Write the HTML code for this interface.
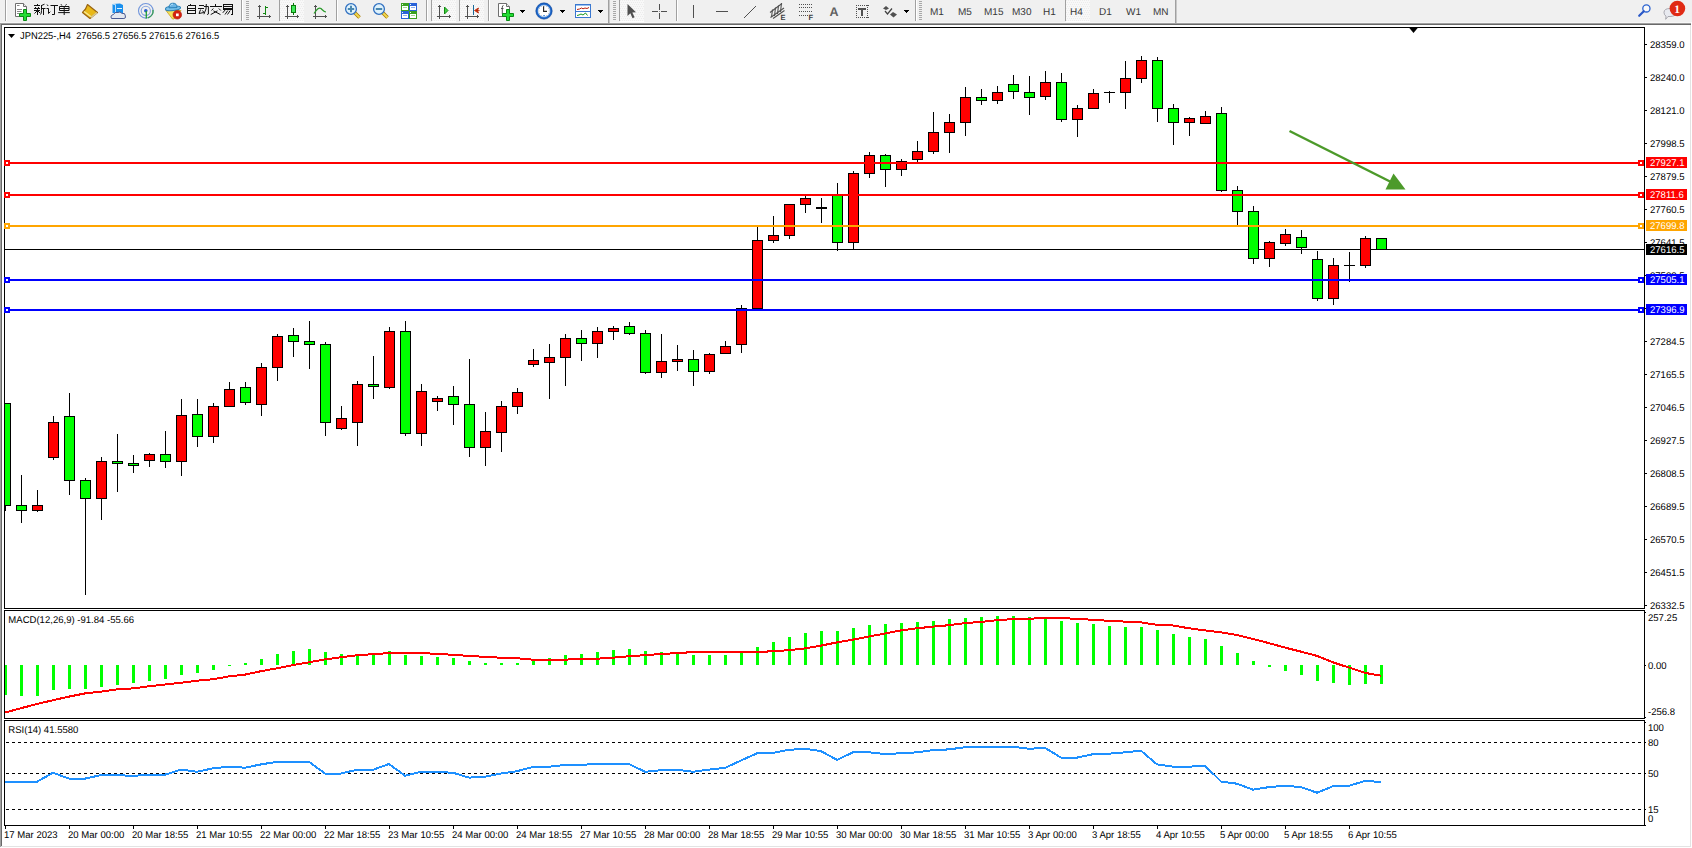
<!DOCTYPE html>
<html><head><meta charset="utf-8"><title>MT4 JPN225 H4</title>
<style>html,body{margin:0;padding:0;background:#fff;width:1692px;height:848px;overflow:hidden}
text{font-family:"Liberation Sans", sans-serif;text-rendering:geometricPrecision}</style></head>
<body>
<svg width="1692" height="848" viewBox="0 0 1692 848" shape-rendering="crispEdges" style="position:absolute;left:0;top:0">
<rect x="0" y="0" width="1692" height="848" fill="#ffffff"/>
<rect x="0" y="0" width="1692" height="22" fill="#f0f0f0"/>
<rect x="0" y="22" width="1691" height="1" fill="#f7f7f7"/>
<rect x="0" y="23" width="1691" height="1" fill="#a0a0a0"/>
<rect x="0" y="24" width="1691" height="1" fill="#696969"/>
<rect x="0" y="23" width="1" height="824" fill="#a0a0a0"/>
<rect x="1" y="24" width="1" height="822" fill="#696969"/>
<rect x="1690" y="25" width="1" height="821" fill="#e3e3e3"/>
<rect x="1" y="846" width="1690" height="1" fill="#e3e3e3"/>
<rect x="4" y="27" width="1641" height="1" fill="#000"/>
<rect x="4" y="608" width="1641" height="1" fill="#000"/>
<rect x="4" y="27" width="1" height="582" fill="#000"/>
<rect x="1644" y="27" width="1" height="582" fill="#000"/>
<rect x="4" y="610" width="1641" height="1" fill="#000"/>
<rect x="4" y="718" width="1641" height="1" fill="#000"/>
<rect x="4" y="610" width="1" height="109" fill="#000"/>
<rect x="1644" y="610" width="1" height="109" fill="#000"/>
<rect x="4" y="720" width="1641" height="1" fill="#000"/>
<rect x="4" y="825" width="1641" height="1" fill="#000"/>
<rect x="4" y="720" width="1" height="106" fill="#000"/>
<rect x="1644" y="720" width="1" height="106" fill="#000"/>
<defs><clipPath id="cm"><rect x="5" y="28" width="1639" height="580"/></clipPath><clipPath id="cmacd"><rect x="5" y="611" width="1639" height="107"/></clipPath><clipPath id="crsi"><rect x="5" y="721" width="1639" height="104"/></clipPath></defs>
<g clip-path="url(#cm)">
<rect x="5" y="249" width="1639" height="1" fill="#000"/>
<rect x="5" y="403" width="1" height="108" fill="#000"/>
<rect x="0" y="403" width="11" height="103" fill="#000"/>
<rect x="1" y="404" width="9" height="101" fill="#00ff00"/>
<rect x="21" y="475" width="1" height="48" fill="#000"/>
<rect x="16" y="505" width="11" height="6" fill="#000"/>
<rect x="17" y="506" width="9" height="4" fill="#00ff00"/>
<rect x="37" y="490" width="1" height="22" fill="#000"/>
<rect x="32" y="505" width="11" height="6" fill="#000"/>
<rect x="33" y="506" width="9" height="4" fill="#ff0000"/>
<rect x="53" y="416" width="1" height="44" fill="#000"/>
<rect x="48" y="422" width="11" height="36" fill="#000"/>
<rect x="49" y="423" width="9" height="34" fill="#ff0000"/>
<rect x="69" y="393" width="1" height="102" fill="#000"/>
<rect x="64" y="416" width="11" height="65" fill="#000"/>
<rect x="65" y="417" width="9" height="63" fill="#00ff00"/>
<rect x="85" y="478" width="1" height="117" fill="#000"/>
<rect x="80" y="480" width="11" height="19" fill="#000"/>
<rect x="81" y="481" width="9" height="17" fill="#00ff00"/>
<rect x="101" y="457" width="1" height="63" fill="#000"/>
<rect x="96" y="461" width="11" height="38" fill="#000"/>
<rect x="97" y="462" width="9" height="36" fill="#ff0000"/>
<rect x="117" y="434" width="1" height="58" fill="#000"/>
<rect x="112" y="461" width="11" height="3" fill="#000"/>
<rect x="113" y="462" width="9" height="1" fill="#00ff00"/>
<rect x="133" y="455" width="1" height="18" fill="#000"/>
<rect x="128" y="463" width="11" height="3" fill="#000"/>
<rect x="129" y="464" width="9" height="1" fill="#00ff00"/>
<rect x="149" y="453" width="1" height="14" fill="#000"/>
<rect x="144" y="454" width="11" height="7" fill="#000"/>
<rect x="145" y="455" width="9" height="5" fill="#ff0000"/>
<rect x="165" y="431" width="1" height="37" fill="#000"/>
<rect x="160" y="454" width="11" height="8" fill="#000"/>
<rect x="161" y="455" width="9" height="6" fill="#00ff00"/>
<rect x="181" y="399" width="1" height="77" fill="#000"/>
<rect x="176" y="415" width="11" height="47" fill="#000"/>
<rect x="177" y="416" width="9" height="45" fill="#ff0000"/>
<rect x="197" y="399" width="1" height="48" fill="#000"/>
<rect x="192" y="414" width="11" height="23" fill="#000"/>
<rect x="193" y="415" width="9" height="21" fill="#00ff00"/>
<rect x="213" y="403" width="1" height="40" fill="#000"/>
<rect x="208" y="406" width="11" height="31" fill="#000"/>
<rect x="209" y="407" width="9" height="29" fill="#ff0000"/>
<rect x="229" y="382" width="1" height="25" fill="#000"/>
<rect x="224" y="389" width="11" height="18" fill="#000"/>
<rect x="225" y="390" width="9" height="16" fill="#ff0000"/>
<rect x="245" y="382" width="1" height="23" fill="#000"/>
<rect x="240" y="387" width="11" height="16" fill="#000"/>
<rect x="241" y="388" width="9" height="14" fill="#00ff00"/>
<rect x="261" y="363" width="1" height="53" fill="#000"/>
<rect x="256" y="367" width="11" height="38" fill="#000"/>
<rect x="257" y="368" width="9" height="36" fill="#ff0000"/>
<rect x="277" y="334" width="1" height="47" fill="#000"/>
<rect x="272" y="336" width="11" height="32" fill="#000"/>
<rect x="273" y="337" width="9" height="30" fill="#ff0000"/>
<rect x="293" y="328" width="1" height="29" fill="#000"/>
<rect x="288" y="335" width="11" height="7" fill="#000"/>
<rect x="289" y="336" width="9" height="5" fill="#00ff00"/>
<rect x="309" y="321" width="1" height="48" fill="#000"/>
<rect x="304" y="341" width="11" height="4" fill="#000"/>
<rect x="305" y="342" width="9" height="2" fill="#00ff00"/>
<rect x="325" y="342" width="1" height="94" fill="#000"/>
<rect x="320" y="344" width="11" height="79" fill="#000"/>
<rect x="321" y="345" width="9" height="77" fill="#00ff00"/>
<rect x="341" y="406" width="1" height="24" fill="#000"/>
<rect x="336" y="418" width="11" height="11" fill="#000"/>
<rect x="337" y="419" width="9" height="9" fill="#ff0000"/>
<rect x="357" y="381" width="1" height="65" fill="#000"/>
<rect x="352" y="384" width="11" height="39" fill="#000"/>
<rect x="353" y="385" width="9" height="37" fill="#ff0000"/>
<rect x="373" y="356" width="1" height="43" fill="#000"/>
<rect x="368" y="384" width="11" height="3" fill="#000"/>
<rect x="369" y="385" width="9" height="1" fill="#00ff00"/>
<rect x="389" y="327" width="1" height="62" fill="#000"/>
<rect x="384" y="331" width="11" height="57" fill="#000"/>
<rect x="385" y="332" width="9" height="55" fill="#ff0000"/>
<rect x="405" y="321" width="1" height="115" fill="#000"/>
<rect x="400" y="331" width="11" height="103" fill="#000"/>
<rect x="401" y="332" width="9" height="101" fill="#00ff00"/>
<rect x="421" y="384" width="1" height="62" fill="#000"/>
<rect x="416" y="391" width="11" height="43" fill="#000"/>
<rect x="417" y="392" width="9" height="41" fill="#ff0000"/>
<rect x="437" y="396" width="1" height="15" fill="#000"/>
<rect x="432" y="398" width="11" height="4" fill="#000"/>
<rect x="433" y="399" width="9" height="2" fill="#ff0000"/>
<rect x="453" y="386" width="1" height="39" fill="#000"/>
<rect x="448" y="396" width="11" height="9" fill="#000"/>
<rect x="449" y="397" width="9" height="7" fill="#00ff00"/>
<rect x="469" y="359" width="1" height="98" fill="#000"/>
<rect x="464" y="404" width="11" height="44" fill="#000"/>
<rect x="465" y="405" width="9" height="42" fill="#00ff00"/>
<rect x="485" y="412" width="1" height="54" fill="#000"/>
<rect x="480" y="431" width="11" height="17" fill="#000"/>
<rect x="481" y="432" width="9" height="15" fill="#ff0000"/>
<rect x="501" y="401" width="1" height="51" fill="#000"/>
<rect x="496" y="406" width="11" height="27" fill="#000"/>
<rect x="497" y="407" width="9" height="25" fill="#ff0000"/>
<rect x="517" y="388" width="1" height="26" fill="#000"/>
<rect x="512" y="392" width="11" height="15" fill="#000"/>
<rect x="513" y="393" width="9" height="13" fill="#ff0000"/>
<rect x="533" y="349" width="1" height="18" fill="#000"/>
<rect x="528" y="360" width="11" height="5" fill="#000"/>
<rect x="529" y="361" width="9" height="3" fill="#ff0000"/>
<rect x="549" y="344" width="1" height="55" fill="#000"/>
<rect x="544" y="357" width="11" height="6" fill="#000"/>
<rect x="545" y="358" width="9" height="4" fill="#ff0000"/>
<rect x="565" y="334" width="1" height="52" fill="#000"/>
<rect x="560" y="338" width="11" height="20" fill="#000"/>
<rect x="561" y="339" width="9" height="18" fill="#ff0000"/>
<rect x="581" y="330" width="1" height="31" fill="#000"/>
<rect x="576" y="338" width="11" height="6" fill="#000"/>
<rect x="577" y="339" width="9" height="4" fill="#00ff00"/>
<rect x="597" y="327" width="1" height="31" fill="#000"/>
<rect x="592" y="331" width="11" height="13" fill="#000"/>
<rect x="593" y="332" width="9" height="11" fill="#ff0000"/>
<rect x="613" y="326" width="1" height="14" fill="#000"/>
<rect x="608" y="328" width="11" height="4" fill="#000"/>
<rect x="609" y="329" width="9" height="2" fill="#ff0000"/>
<rect x="629" y="322" width="1" height="13" fill="#000"/>
<rect x="624" y="326" width="11" height="8" fill="#000"/>
<rect x="625" y="327" width="9" height="6" fill="#00ff00"/>
<rect x="645" y="330" width="1" height="44" fill="#000"/>
<rect x="640" y="333" width="11" height="40" fill="#000"/>
<rect x="641" y="334" width="9" height="38" fill="#00ff00"/>
<rect x="661" y="334" width="1" height="44" fill="#000"/>
<rect x="656" y="361" width="11" height="12" fill="#000"/>
<rect x="657" y="362" width="9" height="10" fill="#ff0000"/>
<rect x="677" y="345" width="1" height="26" fill="#000"/>
<rect x="672" y="359" width="11" height="3" fill="#000"/>
<rect x="673" y="360" width="9" height="1" fill="#ff0000"/>
<rect x="693" y="350" width="1" height="36" fill="#000"/>
<rect x="688" y="359" width="11" height="13" fill="#000"/>
<rect x="689" y="360" width="9" height="11" fill="#00ff00"/>
<rect x="709" y="353" width="1" height="21" fill="#000"/>
<rect x="704" y="354" width="11" height="18" fill="#000"/>
<rect x="705" y="355" width="9" height="16" fill="#ff0000"/>
<rect x="725" y="341" width="1" height="13" fill="#000"/>
<rect x="720" y="346" width="11" height="8" fill="#000"/>
<rect x="721" y="347" width="9" height="6" fill="#ff0000"/>
<rect x="741" y="305" width="1" height="48" fill="#000"/>
<rect x="736" y="308" width="11" height="37" fill="#000"/>
<rect x="737" y="309" width="9" height="35" fill="#ff0000"/>
<rect x="757" y="227" width="1" height="82" fill="#000"/>
<rect x="752" y="240" width="11" height="69" fill="#000"/>
<rect x="753" y="241" width="9" height="67" fill="#ff0000"/>
<rect x="773" y="216" width="1" height="27" fill="#000"/>
<rect x="768" y="235" width="11" height="6" fill="#000"/>
<rect x="769" y="236" width="9" height="4" fill="#ff0000"/>
<rect x="789" y="204" width="1" height="35" fill="#000"/>
<rect x="784" y="204" width="11" height="32" fill="#000"/>
<rect x="785" y="205" width="9" height="30" fill="#ff0000"/>
<rect x="805" y="196" width="1" height="17" fill="#000"/>
<rect x="800" y="198" width="11" height="7" fill="#000"/>
<rect x="801" y="199" width="9" height="5" fill="#ff0000"/>
<rect x="821" y="198" width="1" height="25" fill="#000"/>
<rect x="816" y="207" width="11" height="2" fill="#000"/>
<rect x="837" y="183" width="1" height="68" fill="#000"/>
<rect x="832" y="195" width="11" height="48" fill="#000"/>
<rect x="833" y="196" width="9" height="46" fill="#00ff00"/>
<rect x="853" y="171" width="1" height="79" fill="#000"/>
<rect x="848" y="173" width="11" height="70" fill="#000"/>
<rect x="849" y="174" width="9" height="68" fill="#ff0000"/>
<rect x="869" y="152" width="1" height="26" fill="#000"/>
<rect x="864" y="155" width="11" height="19" fill="#000"/>
<rect x="865" y="156" width="9" height="17" fill="#ff0000"/>
<rect x="885" y="154" width="1" height="33" fill="#000"/>
<rect x="880" y="155" width="11" height="15" fill="#000"/>
<rect x="881" y="156" width="9" height="13" fill="#00ff00"/>
<rect x="901" y="159" width="1" height="17" fill="#000"/>
<rect x="896" y="161" width="11" height="9" fill="#000"/>
<rect x="897" y="162" width="9" height="7" fill="#ff0000"/>
<rect x="917" y="141" width="1" height="21" fill="#000"/>
<rect x="912" y="151" width="11" height="9" fill="#000"/>
<rect x="913" y="152" width="9" height="7" fill="#ff0000"/>
<rect x="933" y="112" width="1" height="42" fill="#000"/>
<rect x="928" y="132" width="11" height="20" fill="#000"/>
<rect x="929" y="133" width="9" height="18" fill="#ff0000"/>
<rect x="949" y="114" width="1" height="39" fill="#000"/>
<rect x="944" y="122" width="11" height="11" fill="#000"/>
<rect x="945" y="123" width="9" height="9" fill="#ff0000"/>
<rect x="965" y="87" width="1" height="49" fill="#000"/>
<rect x="960" y="97" width="11" height="26" fill="#000"/>
<rect x="961" y="98" width="9" height="24" fill="#ff0000"/>
<rect x="981" y="89" width="1" height="16" fill="#000"/>
<rect x="976" y="97" width="11" height="4" fill="#000"/>
<rect x="977" y="98" width="9" height="2" fill="#00ff00"/>
<rect x="997" y="86" width="1" height="18" fill="#000"/>
<rect x="992" y="92" width="11" height="9" fill="#000"/>
<rect x="993" y="93" width="9" height="7" fill="#ff0000"/>
<rect x="1013" y="75" width="1" height="24" fill="#000"/>
<rect x="1008" y="84" width="11" height="8" fill="#000"/>
<rect x="1009" y="85" width="9" height="6" fill="#00ff00"/>
<rect x="1029" y="76" width="1" height="39" fill="#000"/>
<rect x="1024" y="92" width="11" height="6" fill="#000"/>
<rect x="1025" y="93" width="9" height="4" fill="#00ff00"/>
<rect x="1045" y="71" width="1" height="29" fill="#000"/>
<rect x="1040" y="82" width="11" height="15" fill="#000"/>
<rect x="1041" y="83" width="9" height="13" fill="#ff0000"/>
<rect x="1061" y="73" width="1" height="49" fill="#000"/>
<rect x="1056" y="82" width="11" height="38" fill="#000"/>
<rect x="1057" y="83" width="9" height="36" fill="#00ff00"/>
<rect x="1077" y="105" width="1" height="32" fill="#000"/>
<rect x="1072" y="108" width="11" height="12" fill="#000"/>
<rect x="1073" y="109" width="9" height="10" fill="#ff0000"/>
<rect x="1093" y="89" width="1" height="20" fill="#000"/>
<rect x="1088" y="93" width="11" height="16" fill="#000"/>
<rect x="1089" y="94" width="9" height="14" fill="#ff0000"/>
<rect x="1109" y="91" width="1" height="12" fill="#000"/>
<rect x="1104" y="92" width="11" height="1" fill="#000"/>
<rect x="1125" y="61" width="1" height="48" fill="#000"/>
<rect x="1120" y="78" width="11" height="15" fill="#000"/>
<rect x="1121" y="79" width="9" height="13" fill="#ff0000"/>
<rect x="1141" y="56" width="1" height="27" fill="#000"/>
<rect x="1136" y="60" width="11" height="19" fill="#000"/>
<rect x="1137" y="61" width="9" height="17" fill="#ff0000"/>
<rect x="1157" y="57" width="1" height="65" fill="#000"/>
<rect x="1152" y="60" width="11" height="49" fill="#000"/>
<rect x="1153" y="61" width="9" height="47" fill="#00ff00"/>
<rect x="1173" y="104" width="1" height="41" fill="#000"/>
<rect x="1168" y="108" width="11" height="15" fill="#000"/>
<rect x="1169" y="109" width="9" height="13" fill="#00ff00"/>
<rect x="1189" y="117" width="1" height="19" fill="#000"/>
<rect x="1184" y="118" width="11" height="5" fill="#000"/>
<rect x="1185" y="119" width="9" height="3" fill="#ff0000"/>
<rect x="1205" y="111" width="1" height="13" fill="#000"/>
<rect x="1200" y="116" width="11" height="8" fill="#000"/>
<rect x="1201" y="117" width="9" height="6" fill="#ff0000"/>
<rect x="1221" y="107" width="1" height="85" fill="#000"/>
<rect x="1216" y="113" width="11" height="78" fill="#000"/>
<rect x="1217" y="114" width="9" height="76" fill="#00ff00"/>
<rect x="1237" y="186" width="1" height="39" fill="#000"/>
<rect x="1232" y="190" width="11" height="22" fill="#000"/>
<rect x="1233" y="191" width="9" height="20" fill="#00ff00"/>
<rect x="1253" y="206" width="1" height="58" fill="#000"/>
<rect x="1248" y="211" width="11" height="48" fill="#000"/>
<rect x="1249" y="212" width="9" height="46" fill="#00ff00"/>
<rect x="1269" y="241" width="1" height="26" fill="#000"/>
<rect x="1264" y="242" width="11" height="17" fill="#000"/>
<rect x="1265" y="243" width="9" height="15" fill="#ff0000"/>
<rect x="1285" y="229" width="1" height="17" fill="#000"/>
<rect x="1280" y="234" width="11" height="10" fill="#000"/>
<rect x="1281" y="235" width="9" height="8" fill="#ff0000"/>
<rect x="1301" y="230" width="1" height="24" fill="#000"/>
<rect x="1296" y="237" width="11" height="11" fill="#000"/>
<rect x="1297" y="238" width="9" height="9" fill="#00ff00"/>
<rect x="1317" y="251" width="1" height="50" fill="#000"/>
<rect x="1312" y="259" width="11" height="40" fill="#000"/>
<rect x="1313" y="260" width="9" height="38" fill="#00ff00"/>
<rect x="1333" y="258" width="1" height="47" fill="#000"/>
<rect x="1328" y="265" width="11" height="34" fill="#000"/>
<rect x="1329" y="266" width="9" height="32" fill="#ff0000"/>
<rect x="1349" y="252" width="1" height="30" fill="#000"/>
<rect x="1344" y="265" width="11" height="1" fill="#000"/>
<rect x="1365" y="236" width="1" height="32" fill="#000"/>
<rect x="1360" y="238" width="11" height="28" fill="#000"/>
<rect x="1361" y="239" width="9" height="26" fill="#ff0000"/>
<rect x="1381" y="238" width="1" height="12" fill="#000"/>
<rect x="1376" y="238" width="11" height="12" fill="#000"/>
<rect x="1377" y="239" width="9" height="10" fill="#00ff00"/>
</g>
<rect x="5" y="162" width="1639" height="2" fill="#ff0000"/>
<rect x="4" y="160" width="6" height="6" fill="#ff0000"/>
<rect x="6" y="162" width="2" height="2" fill="#ffffff"/>
<rect x="1638" y="160" width="6" height="6" fill="#ff0000"/>
<rect x="1640" y="162" width="2" height="2" fill="#ffffff"/>
<rect x="5" y="194" width="1639" height="2" fill="#ff0000"/>
<rect x="4" y="192" width="6" height="6" fill="#ff0000"/>
<rect x="6" y="194" width="2" height="2" fill="#ffffff"/>
<rect x="1638" y="192" width="6" height="6" fill="#ff0000"/>
<rect x="1640" y="194" width="2" height="2" fill="#ffffff"/>
<rect x="5" y="225" width="1639" height="2" fill="#ffa500"/>
<rect x="4" y="223" width="6" height="6" fill="#ffa500"/>
<rect x="6" y="225" width="2" height="2" fill="#ffffff"/>
<rect x="1638" y="223" width="6" height="6" fill="#ffa500"/>
<rect x="1640" y="225" width="2" height="2" fill="#ffffff"/>
<rect x="5" y="279" width="1639" height="2" fill="#0000ff"/>
<rect x="4" y="277" width="6" height="6" fill="#0000ff"/>
<rect x="6" y="279" width="2" height="2" fill="#ffffff"/>
<rect x="1638" y="277" width="6" height="6" fill="#0000ff"/>
<rect x="1640" y="279" width="2" height="2" fill="#ffffff"/>
<rect x="5" y="309" width="1639" height="2" fill="#0000ff"/>
<rect x="4" y="307" width="6" height="6" fill="#0000ff"/>
<rect x="6" y="309" width="2" height="2" fill="#ffffff"/>
<rect x="1638" y="307" width="6" height="6" fill="#0000ff"/>
<rect x="1640" y="309" width="2" height="2" fill="#ffffff"/>
<g shape-rendering="geometricPrecision">
<line x1="1289.5" y1="131" x2="1391" y2="182" stroke="#4c9a2a" stroke-width="2.5"/>
<polygon points="1393.5,173.5 1385.5,189.5 1405.5,189.5" fill="#4c9a2a"/>
</g>
<polygon points="1408.5,27 1418.5,27 1413.5,33" fill="#000" shape-rendering="geometricPrecision"/>
<g style='font-family:"Liberation Sans", sans-serif;font-size:9.5px' fill="#000" shape-rendering="geometricPrecision">
<rect x="1645" y="44" width="2" height="1" fill="#000"/>
<text transform="translate(1650,48) scale(0.975,1)" x="0" y="0" fill="#000" style='font-family:"Liberation Sans", sans-serif;font-size:9.8px' >28359.0</text>
<rect x="1645" y="77" width="2" height="1" fill="#000"/>
<text transform="translate(1650,81) scale(0.975,1)" x="0" y="0" fill="#000" style='font-family:"Liberation Sans", sans-serif;font-size:9.8px' >28240.0</text>
<rect x="1645" y="110" width="2" height="1" fill="#000"/>
<text transform="translate(1650,114) scale(0.975,1)" x="0" y="0" fill="#000" style='font-family:"Liberation Sans", sans-serif;font-size:9.8px' >28121.0</text>
<rect x="1645" y="143" width="2" height="1" fill="#000"/>
<text transform="translate(1650,147) scale(0.975,1)" x="0" y="0" fill="#000" style='font-family:"Liberation Sans", sans-serif;font-size:9.8px' >27998.5</text>
<rect x="1645" y="176" width="2" height="1" fill="#000"/>
<text transform="translate(1650,180) scale(0.975,1)" x="0" y="0" fill="#000" style='font-family:"Liberation Sans", sans-serif;font-size:9.8px' >27879.5</text>
<rect x="1645" y="209" width="2" height="1" fill="#000"/>
<text transform="translate(1650,213) scale(0.975,1)" x="0" y="0" fill="#000" style='font-family:"Liberation Sans", sans-serif;font-size:9.8px' >27760.5</text>
<rect x="1645" y="242" width="2" height="1" fill="#000"/>
<text transform="translate(1650,246) scale(0.975,1)" x="0" y="0" fill="#000" style='font-family:"Liberation Sans", sans-serif;font-size:9.8px' >27641.5</text>
<rect x="1645" y="275" width="2" height="1" fill="#000"/>
<text transform="translate(1650,279) scale(0.975,1)" x="0" y="0" fill="#000" style='font-family:"Liberation Sans", sans-serif;font-size:9.8px' >27522.5</text>
<rect x="1645" y="308" width="2" height="1" fill="#000"/>
<text transform="translate(1650,312) scale(0.975,1)" x="0" y="0" fill="#000" style='font-family:"Liberation Sans", sans-serif;font-size:9.8px' >27403.5</text>
<rect x="1645" y="341" width="2" height="1" fill="#000"/>
<text transform="translate(1650,345) scale(0.975,1)" x="0" y="0" fill="#000" style='font-family:"Liberation Sans", sans-serif;font-size:9.8px' >27284.5</text>
<rect x="1645" y="374" width="2" height="1" fill="#000"/>
<text transform="translate(1650,378) scale(0.975,1)" x="0" y="0" fill="#000" style='font-family:"Liberation Sans", sans-serif;font-size:9.8px' >27165.5</text>
<rect x="1645" y="407" width="2" height="1" fill="#000"/>
<text transform="translate(1650,411) scale(0.975,1)" x="0" y="0" fill="#000" style='font-family:"Liberation Sans", sans-serif;font-size:9.8px' >27046.5</text>
<rect x="1645" y="440" width="2" height="1" fill="#000"/>
<text transform="translate(1650,444) scale(0.975,1)" x="0" y="0" fill="#000" style='font-family:"Liberation Sans", sans-serif;font-size:9.8px' >26927.5</text>
<rect x="1645" y="473" width="2" height="1" fill="#000"/>
<text transform="translate(1650,477) scale(0.975,1)" x="0" y="0" fill="#000" style='font-family:"Liberation Sans", sans-serif;font-size:9.8px' >26808.5</text>
<rect x="1645" y="506" width="2" height="1" fill="#000"/>
<text transform="translate(1650,510) scale(0.975,1)" x="0" y="0" fill="#000" style='font-family:"Liberation Sans", sans-serif;font-size:9.8px' >26689.5</text>
<rect x="1645" y="539" width="2" height="1" fill="#000"/>
<text transform="translate(1650,543) scale(0.975,1)" x="0" y="0" fill="#000" style='font-family:"Liberation Sans", sans-serif;font-size:9.8px' >26570.5</text>
<rect x="1645" y="572" width="2" height="1" fill="#000"/>
<text transform="translate(1650,576) scale(0.975,1)" x="0" y="0" fill="#000" style='font-family:"Liberation Sans", sans-serif;font-size:9.8px' >26451.5</text>
<rect x="1645" y="605" width="2" height="1" fill="#000"/>
<text transform="translate(1650,609) scale(0.975,1)" x="0" y="0" fill="#000" style='font-family:"Liberation Sans", sans-serif;font-size:9.8px' >26332.5</text>
</g>
<rect x="1646" y="157" width="41" height="11" fill="#ff0000"/>
<text transform="translate(1650,166) scale(0.975,1)" x="0" y="0" fill="#fff" style='font-family:"Liberation Sans", sans-serif;font-size:9.8px' >27927.1</text>
<rect x="1646" y="189" width="41" height="11" fill="#ff0000"/>
<text transform="translate(1650,198) scale(0.975,1)" x="0" y="0" fill="#fff" style='font-family:"Liberation Sans", sans-serif;font-size:9.8px' >27811.6</text>
<rect x="1646" y="220" width="41" height="11" fill="#ffa500"/>
<text transform="translate(1650,229) scale(0.975,1)" x="0" y="0" fill="#fff" style='font-family:"Liberation Sans", sans-serif;font-size:9.8px' >27699.8</text>
<rect x="1646" y="274" width="41" height="11" fill="#0000ff"/>
<text transform="translate(1650,283) scale(0.975,1)" x="0" y="0" fill="#fff" style='font-family:"Liberation Sans", sans-serif;font-size:9.8px' >27505.1</text>
<rect x="1646" y="304" width="41" height="11" fill="#0000ff"/>
<text transform="translate(1650,313) scale(0.975,1)" x="0" y="0" fill="#fff" style='font-family:"Liberation Sans", sans-serif;font-size:9.8px' >27396.9</text>
<rect x="1646" y="244" width="41" height="11" fill="#000000"/>
<text transform="translate(1650,253) scale(0.975,1)" x="0" y="0" fill="#fff" style='font-family:"Liberation Sans", sans-serif;font-size:9.8px' >27616.5</text>
<polygon points="8,34 15,34 11.5,38" fill="#000" shape-rendering="geometricPrecision"/>
<text transform="translate(20,39) scale(0.955,1)" x="0" y="0" fill="#000" style='font-family:"Liberation Sans", sans-serif;font-size:9.8px' xml:space="preserve">JPN225-,H4  27656.5 27656.5 27615.6 27616.5</text>
<g clip-path="url(#cmacd)">
<rect x="4" y="665" width="3" height="30" fill="#00ff00"/>
<rect x="20" y="665" width="3" height="31" fill="#00ff00"/>
<rect x="36" y="665" width="3" height="31" fill="#00ff00"/>
<rect x="52" y="665" width="3" height="25" fill="#00ff00"/>
<rect x="68" y="665" width="3" height="24" fill="#00ff00"/>
<rect x="84" y="665" width="3" height="24" fill="#00ff00"/>
<rect x="100" y="665" width="3" height="22" fill="#00ff00"/>
<rect x="116" y="665" width="3" height="20" fill="#00ff00"/>
<rect x="132" y="665" width="3" height="18" fill="#00ff00"/>
<rect x="148" y="665" width="3" height="16" fill="#00ff00"/>
<rect x="164" y="665" width="3" height="14" fill="#00ff00"/>
<rect x="180" y="665" width="3" height="10" fill="#00ff00"/>
<rect x="196" y="665" width="3" height="8" fill="#00ff00"/>
<rect x="212" y="665" width="3" height="5" fill="#00ff00"/>
<rect x="228" y="665" width="3" height="1" fill="#00ff00"/>
<rect x="244" y="663" width="3" height="2" fill="#00ff00"/>
<rect x="260" y="659" width="3" height="6" fill="#00ff00"/>
<rect x="276" y="654" width="3" height="11" fill="#00ff00"/>
<rect x="292" y="651" width="3" height="14" fill="#00ff00"/>
<rect x="308" y="649" width="3" height="16" fill="#00ff00"/>
<rect x="324" y="652" width="3" height="13" fill="#00ff00"/>
<rect x="340" y="654" width="3" height="11" fill="#00ff00"/>
<rect x="356" y="655" width="3" height="10" fill="#00ff00"/>
<rect x="372" y="655" width="3" height="10" fill="#00ff00"/>
<rect x="388" y="651" width="3" height="14" fill="#00ff00"/>
<rect x="404" y="655" width="3" height="10" fill="#00ff00"/>
<rect x="420" y="656" width="3" height="9" fill="#00ff00"/>
<rect x="436" y="657" width="3" height="8" fill="#00ff00"/>
<rect x="452" y="658" width="3" height="7" fill="#00ff00"/>
<rect x="468" y="661" width="3" height="4" fill="#00ff00"/>
<rect x="484" y="663" width="3" height="2" fill="#00ff00"/>
<rect x="500" y="663" width="3" height="2" fill="#00ff00"/>
<rect x="516" y="663" width="3" height="2" fill="#00ff00"/>
<rect x="532" y="659" width="3" height="6" fill="#00ff00"/>
<rect x="548" y="658" width="3" height="7" fill="#00ff00"/>
<rect x="564" y="655" width="3" height="10" fill="#00ff00"/>
<rect x="580" y="654" width="3" height="11" fill="#00ff00"/>
<rect x="596" y="652" width="3" height="13" fill="#00ff00"/>
<rect x="612" y="650" width="3" height="15" fill="#00ff00"/>
<rect x="628" y="649" width="3" height="16" fill="#00ff00"/>
<rect x="644" y="651" width="3" height="14" fill="#00ff00"/>
<rect x="660" y="652" width="3" height="13" fill="#00ff00"/>
<rect x="676" y="653" width="3" height="12" fill="#00ff00"/>
<rect x="692" y="655" width="3" height="10" fill="#00ff00"/>
<rect x="708" y="655" width="3" height="10" fill="#00ff00"/>
<rect x="724" y="655" width="3" height="10" fill="#00ff00"/>
<rect x="740" y="653" width="3" height="12" fill="#00ff00"/>
<rect x="756" y="647" width="3" height="18" fill="#00ff00"/>
<rect x="772" y="642" width="3" height="23" fill="#00ff00"/>
<rect x="788" y="637" width="3" height="28" fill="#00ff00"/>
<rect x="804" y="633" width="3" height="32" fill="#00ff00"/>
<rect x="820" y="631" width="3" height="34" fill="#00ff00"/>
<rect x="836" y="631" width="3" height="34" fill="#00ff00"/>
<rect x="852" y="628" width="3" height="37" fill="#00ff00"/>
<rect x="868" y="625" width="3" height="40" fill="#00ff00"/>
<rect x="884" y="624" width="3" height="41" fill="#00ff00"/>
<rect x="900" y="623" width="3" height="42" fill="#00ff00"/>
<rect x="916" y="622" width="3" height="43" fill="#00ff00"/>
<rect x="932" y="621" width="3" height="44" fill="#00ff00"/>
<rect x="948" y="619" width="3" height="46" fill="#00ff00"/>
<rect x="964" y="618" width="3" height="47" fill="#00ff00"/>
<rect x="980" y="617" width="3" height="48" fill="#00ff00"/>
<rect x="996" y="616" width="3" height="49" fill="#00ff00"/>
<rect x="1012" y="616" width="3" height="49" fill="#00ff00"/>
<rect x="1028" y="617" width="3" height="48" fill="#00ff00"/>
<rect x="1044" y="618" width="3" height="47" fill="#00ff00"/>
<rect x="1060" y="621" width="3" height="44" fill="#00ff00"/>
<rect x="1076" y="623" width="3" height="42" fill="#00ff00"/>
<rect x="1092" y="624" width="3" height="41" fill="#00ff00"/>
<rect x="1108" y="626" width="3" height="39" fill="#00ff00"/>
<rect x="1124" y="627" width="3" height="38" fill="#00ff00"/>
<rect x="1140" y="627" width="3" height="38" fill="#00ff00"/>
<rect x="1156" y="630" width="3" height="35" fill="#00ff00"/>
<rect x="1172" y="634" width="3" height="31" fill="#00ff00"/>
<rect x="1188" y="637" width="3" height="28" fill="#00ff00"/>
<rect x="1204" y="639" width="3" height="26" fill="#00ff00"/>
<rect x="1220" y="646" width="3" height="19" fill="#00ff00"/>
<rect x="1236" y="653" width="3" height="12" fill="#00ff00"/>
<rect x="1252" y="661" width="3" height="4" fill="#00ff00"/>
<rect x="1268" y="665" width="3" height="2" fill="#00ff00"/>
<rect x="1284" y="665" width="3" height="6" fill="#00ff00"/>
<rect x="1300" y="665" width="3" height="10" fill="#00ff00"/>
<rect x="1316" y="665" width="3" height="16" fill="#00ff00"/>
<rect x="1332" y="665" width="3" height="18" fill="#00ff00"/>
<rect x="1348" y="665" width="3" height="20" fill="#00ff00"/>
<rect x="1364" y="665" width="3" height="19" fill="#00ff00"/>
<rect x="1380" y="665" width="3" height="19" fill="#00ff00"/>
<polyline points="5,712.5 21,708.2 37,704.0 53,700.2 69,696.6 85,693.4 101,691.7 117,689.4 133,688.4 149,686.3 165,684.5 181,682.8 197,680.7 213,679.2 229,676.4 245,674.6 261,671.2 277,668.3 293,665.1 309,662.3 325,659.4 341,657.3 357,655.2 373,654.2 389,653.1 405,653.1 421,653.1 437,653.8 453,654.8 469,655.9 485,656.9 501,657.7 517,658.2 533,659.7 549,659.7 565,659.7 581,658.7 597,658.7 613,657.7 629,656.2 645,655.2 661,654.0 677,653.1 693,652.1 709,652.1 725,652.1 741,652.1 757,652.1 773,651.2 789,650.2 805,648.4 821,645.6 837,642.4 853,639.6 869,636.5 885,633.5 901,630.4 917,628.3 933,626.6 949,625.2 965,623.1 981,621.9 997,620.2 1013,619.1 1029,618.7 1045,618.1 1061,618.1 1077,618.8 1093,619.8 1109,620.8 1125,621.6 1141,622.4 1157,624.8 1173,625.5 1189,628.3 1205,630.4 1221,632.3 1237,635.1 1253,638.9 1269,643.2 1285,647.6 1301,651.6 1317,655.9 1333,662.3 1349,667.6 1365,672.9 1381,675.7" fill="none" stroke="#ff0000" stroke-width="2"/>
</g>
<text transform="translate(8.3,623) scale(0.975,1)" x="0" y="0" fill="#000" style='font-family:"Liberation Sans", sans-serif;font-size:9.8px' >MACD(12,26,9) -91.84 -55.66</text>
<rect x="1645" y="612" width="1" height="1" fill="#000"/>
<text transform="translate(1648,621) scale(0.975,1)" x="0" y="0" fill="#000" style='font-family:"Liberation Sans", sans-serif;font-size:9.8px' >257.25</text>
<rect x="1645" y="665" width="1" height="1" fill="#000"/>
<text transform="translate(1648,669) scale(0.975,1)" x="0" y="0" fill="#000" style='font-family:"Liberation Sans", sans-serif;font-size:9.8px' >0.00</text>
<rect x="1645" y="717" width="1" height="1" fill="#000"/>
<text transform="translate(1648,715) scale(0.975,1)" x="0" y="0" fill="#000" style='font-family:"Liberation Sans", sans-serif;font-size:9.8px' >-256.8</text>
<g clip-path="url(#crsi)">
<rect x="6" y="742" width="3" height="1" fill="#000"/>
<rect x="12" y="742" width="3" height="1" fill="#000"/>
<rect x="18" y="742" width="3" height="1" fill="#000"/>
<rect x="24" y="742" width="3" height="1" fill="#000"/>
<rect x="30" y="742" width="3" height="1" fill="#000"/>
<rect x="36" y="742" width="3" height="1" fill="#000"/>
<rect x="42" y="742" width="3" height="1" fill="#000"/>
<rect x="48" y="742" width="3" height="1" fill="#000"/>
<rect x="54" y="742" width="3" height="1" fill="#000"/>
<rect x="60" y="742" width="3" height="1" fill="#000"/>
<rect x="66" y="742" width="3" height="1" fill="#000"/>
<rect x="72" y="742" width="3" height="1" fill="#000"/>
<rect x="78" y="742" width="3" height="1" fill="#000"/>
<rect x="84" y="742" width="3" height="1" fill="#000"/>
<rect x="90" y="742" width="3" height="1" fill="#000"/>
<rect x="96" y="742" width="3" height="1" fill="#000"/>
<rect x="102" y="742" width="3" height="1" fill="#000"/>
<rect x="108" y="742" width="3" height="1" fill="#000"/>
<rect x="114" y="742" width="3" height="1" fill="#000"/>
<rect x="120" y="742" width="3" height="1" fill="#000"/>
<rect x="126" y="742" width="3" height="1" fill="#000"/>
<rect x="132" y="742" width="3" height="1" fill="#000"/>
<rect x="138" y="742" width="3" height="1" fill="#000"/>
<rect x="144" y="742" width="3" height="1" fill="#000"/>
<rect x="150" y="742" width="3" height="1" fill="#000"/>
<rect x="156" y="742" width="3" height="1" fill="#000"/>
<rect x="162" y="742" width="3" height="1" fill="#000"/>
<rect x="168" y="742" width="3" height="1" fill="#000"/>
<rect x="174" y="742" width="3" height="1" fill="#000"/>
<rect x="180" y="742" width="3" height="1" fill="#000"/>
<rect x="186" y="742" width="3" height="1" fill="#000"/>
<rect x="192" y="742" width="3" height="1" fill="#000"/>
<rect x="198" y="742" width="3" height="1" fill="#000"/>
<rect x="204" y="742" width="3" height="1" fill="#000"/>
<rect x="210" y="742" width="3" height="1" fill="#000"/>
<rect x="216" y="742" width="3" height="1" fill="#000"/>
<rect x="222" y="742" width="3" height="1" fill="#000"/>
<rect x="228" y="742" width="3" height="1" fill="#000"/>
<rect x="234" y="742" width="3" height="1" fill="#000"/>
<rect x="240" y="742" width="3" height="1" fill="#000"/>
<rect x="246" y="742" width="3" height="1" fill="#000"/>
<rect x="252" y="742" width="3" height="1" fill="#000"/>
<rect x="258" y="742" width="3" height="1" fill="#000"/>
<rect x="264" y="742" width="3" height="1" fill="#000"/>
<rect x="270" y="742" width="3" height="1" fill="#000"/>
<rect x="276" y="742" width="3" height="1" fill="#000"/>
<rect x="282" y="742" width="3" height="1" fill="#000"/>
<rect x="288" y="742" width="3" height="1" fill="#000"/>
<rect x="294" y="742" width="3" height="1" fill="#000"/>
<rect x="300" y="742" width="3" height="1" fill="#000"/>
<rect x="306" y="742" width="3" height="1" fill="#000"/>
<rect x="312" y="742" width="3" height="1" fill="#000"/>
<rect x="318" y="742" width="3" height="1" fill="#000"/>
<rect x="324" y="742" width="3" height="1" fill="#000"/>
<rect x="330" y="742" width="3" height="1" fill="#000"/>
<rect x="336" y="742" width="3" height="1" fill="#000"/>
<rect x="342" y="742" width="3" height="1" fill="#000"/>
<rect x="348" y="742" width="3" height="1" fill="#000"/>
<rect x="354" y="742" width="3" height="1" fill="#000"/>
<rect x="360" y="742" width="3" height="1" fill="#000"/>
<rect x="366" y="742" width="3" height="1" fill="#000"/>
<rect x="372" y="742" width="3" height="1" fill="#000"/>
<rect x="378" y="742" width="3" height="1" fill="#000"/>
<rect x="384" y="742" width="3" height="1" fill="#000"/>
<rect x="390" y="742" width="3" height="1" fill="#000"/>
<rect x="396" y="742" width="3" height="1" fill="#000"/>
<rect x="402" y="742" width="3" height="1" fill="#000"/>
<rect x="408" y="742" width="3" height="1" fill="#000"/>
<rect x="414" y="742" width="3" height="1" fill="#000"/>
<rect x="420" y="742" width="3" height="1" fill="#000"/>
<rect x="426" y="742" width="3" height="1" fill="#000"/>
<rect x="432" y="742" width="3" height="1" fill="#000"/>
<rect x="438" y="742" width="3" height="1" fill="#000"/>
<rect x="444" y="742" width="3" height="1" fill="#000"/>
<rect x="450" y="742" width="3" height="1" fill="#000"/>
<rect x="456" y="742" width="3" height="1" fill="#000"/>
<rect x="462" y="742" width="3" height="1" fill="#000"/>
<rect x="468" y="742" width="3" height="1" fill="#000"/>
<rect x="474" y="742" width="3" height="1" fill="#000"/>
<rect x="480" y="742" width="3" height="1" fill="#000"/>
<rect x="486" y="742" width="3" height="1" fill="#000"/>
<rect x="492" y="742" width="3" height="1" fill="#000"/>
<rect x="498" y="742" width="3" height="1" fill="#000"/>
<rect x="504" y="742" width="3" height="1" fill="#000"/>
<rect x="510" y="742" width="3" height="1" fill="#000"/>
<rect x="516" y="742" width="3" height="1" fill="#000"/>
<rect x="522" y="742" width="3" height="1" fill="#000"/>
<rect x="528" y="742" width="3" height="1" fill="#000"/>
<rect x="534" y="742" width="3" height="1" fill="#000"/>
<rect x="540" y="742" width="3" height="1" fill="#000"/>
<rect x="546" y="742" width="3" height="1" fill="#000"/>
<rect x="552" y="742" width="3" height="1" fill="#000"/>
<rect x="558" y="742" width="3" height="1" fill="#000"/>
<rect x="564" y="742" width="3" height="1" fill="#000"/>
<rect x="570" y="742" width="3" height="1" fill="#000"/>
<rect x="576" y="742" width="3" height="1" fill="#000"/>
<rect x="582" y="742" width="3" height="1" fill="#000"/>
<rect x="588" y="742" width="3" height="1" fill="#000"/>
<rect x="594" y="742" width="3" height="1" fill="#000"/>
<rect x="600" y="742" width="3" height="1" fill="#000"/>
<rect x="606" y="742" width="3" height="1" fill="#000"/>
<rect x="612" y="742" width="3" height="1" fill="#000"/>
<rect x="618" y="742" width="3" height="1" fill="#000"/>
<rect x="624" y="742" width="3" height="1" fill="#000"/>
<rect x="630" y="742" width="3" height="1" fill="#000"/>
<rect x="636" y="742" width="3" height="1" fill="#000"/>
<rect x="642" y="742" width="3" height="1" fill="#000"/>
<rect x="648" y="742" width="3" height="1" fill="#000"/>
<rect x="654" y="742" width="3" height="1" fill="#000"/>
<rect x="660" y="742" width="3" height="1" fill="#000"/>
<rect x="666" y="742" width="3" height="1" fill="#000"/>
<rect x="672" y="742" width="3" height="1" fill="#000"/>
<rect x="678" y="742" width="3" height="1" fill="#000"/>
<rect x="684" y="742" width="3" height="1" fill="#000"/>
<rect x="690" y="742" width="3" height="1" fill="#000"/>
<rect x="696" y="742" width="3" height="1" fill="#000"/>
<rect x="702" y="742" width="3" height="1" fill="#000"/>
<rect x="708" y="742" width="3" height="1" fill="#000"/>
<rect x="714" y="742" width="3" height="1" fill="#000"/>
<rect x="720" y="742" width="3" height="1" fill="#000"/>
<rect x="726" y="742" width="3" height="1" fill="#000"/>
<rect x="732" y="742" width="3" height="1" fill="#000"/>
<rect x="738" y="742" width="3" height="1" fill="#000"/>
<rect x="744" y="742" width="3" height="1" fill="#000"/>
<rect x="750" y="742" width="3" height="1" fill="#000"/>
<rect x="756" y="742" width="3" height="1" fill="#000"/>
<rect x="762" y="742" width="3" height="1" fill="#000"/>
<rect x="768" y="742" width="3" height="1" fill="#000"/>
<rect x="774" y="742" width="3" height="1" fill="#000"/>
<rect x="780" y="742" width="3" height="1" fill="#000"/>
<rect x="786" y="742" width="3" height="1" fill="#000"/>
<rect x="792" y="742" width="3" height="1" fill="#000"/>
<rect x="798" y="742" width="3" height="1" fill="#000"/>
<rect x="804" y="742" width="3" height="1" fill="#000"/>
<rect x="810" y="742" width="3" height="1" fill="#000"/>
<rect x="816" y="742" width="3" height="1" fill="#000"/>
<rect x="822" y="742" width="3" height="1" fill="#000"/>
<rect x="828" y="742" width="3" height="1" fill="#000"/>
<rect x="834" y="742" width="3" height="1" fill="#000"/>
<rect x="840" y="742" width="3" height="1" fill="#000"/>
<rect x="846" y="742" width="3" height="1" fill="#000"/>
<rect x="852" y="742" width="3" height="1" fill="#000"/>
<rect x="858" y="742" width="3" height="1" fill="#000"/>
<rect x="864" y="742" width="3" height="1" fill="#000"/>
<rect x="870" y="742" width="3" height="1" fill="#000"/>
<rect x="876" y="742" width="3" height="1" fill="#000"/>
<rect x="882" y="742" width="3" height="1" fill="#000"/>
<rect x="888" y="742" width="3" height="1" fill="#000"/>
<rect x="894" y="742" width="3" height="1" fill="#000"/>
<rect x="900" y="742" width="3" height="1" fill="#000"/>
<rect x="906" y="742" width="3" height="1" fill="#000"/>
<rect x="912" y="742" width="3" height="1" fill="#000"/>
<rect x="918" y="742" width="3" height="1" fill="#000"/>
<rect x="924" y="742" width="3" height="1" fill="#000"/>
<rect x="930" y="742" width="3" height="1" fill="#000"/>
<rect x="936" y="742" width="3" height="1" fill="#000"/>
<rect x="942" y="742" width="3" height="1" fill="#000"/>
<rect x="948" y="742" width="3" height="1" fill="#000"/>
<rect x="954" y="742" width="3" height="1" fill="#000"/>
<rect x="960" y="742" width="3" height="1" fill="#000"/>
<rect x="966" y="742" width="3" height="1" fill="#000"/>
<rect x="972" y="742" width="3" height="1" fill="#000"/>
<rect x="978" y="742" width="3" height="1" fill="#000"/>
<rect x="984" y="742" width="3" height="1" fill="#000"/>
<rect x="990" y="742" width="3" height="1" fill="#000"/>
<rect x="996" y="742" width="3" height="1" fill="#000"/>
<rect x="1002" y="742" width="3" height="1" fill="#000"/>
<rect x="1008" y="742" width="3" height="1" fill="#000"/>
<rect x="1014" y="742" width="3" height="1" fill="#000"/>
<rect x="1020" y="742" width="3" height="1" fill="#000"/>
<rect x="1026" y="742" width="3" height="1" fill="#000"/>
<rect x="1032" y="742" width="3" height="1" fill="#000"/>
<rect x="1038" y="742" width="3" height="1" fill="#000"/>
<rect x="1044" y="742" width="3" height="1" fill="#000"/>
<rect x="1050" y="742" width="3" height="1" fill="#000"/>
<rect x="1056" y="742" width="3" height="1" fill="#000"/>
<rect x="1062" y="742" width="3" height="1" fill="#000"/>
<rect x="1068" y="742" width="3" height="1" fill="#000"/>
<rect x="1074" y="742" width="3" height="1" fill="#000"/>
<rect x="1080" y="742" width="3" height="1" fill="#000"/>
<rect x="1086" y="742" width="3" height="1" fill="#000"/>
<rect x="1092" y="742" width="3" height="1" fill="#000"/>
<rect x="1098" y="742" width="3" height="1" fill="#000"/>
<rect x="1104" y="742" width="3" height="1" fill="#000"/>
<rect x="1110" y="742" width="3" height="1" fill="#000"/>
<rect x="1116" y="742" width="3" height="1" fill="#000"/>
<rect x="1122" y="742" width="3" height="1" fill="#000"/>
<rect x="1128" y="742" width="3" height="1" fill="#000"/>
<rect x="1134" y="742" width="3" height="1" fill="#000"/>
<rect x="1140" y="742" width="3" height="1" fill="#000"/>
<rect x="1146" y="742" width="3" height="1" fill="#000"/>
<rect x="1152" y="742" width="3" height="1" fill="#000"/>
<rect x="1158" y="742" width="3" height="1" fill="#000"/>
<rect x="1164" y="742" width="3" height="1" fill="#000"/>
<rect x="1170" y="742" width="3" height="1" fill="#000"/>
<rect x="1176" y="742" width="3" height="1" fill="#000"/>
<rect x="1182" y="742" width="3" height="1" fill="#000"/>
<rect x="1188" y="742" width="3" height="1" fill="#000"/>
<rect x="1194" y="742" width="3" height="1" fill="#000"/>
<rect x="1200" y="742" width="3" height="1" fill="#000"/>
<rect x="1206" y="742" width="3" height="1" fill="#000"/>
<rect x="1212" y="742" width="3" height="1" fill="#000"/>
<rect x="1218" y="742" width="3" height="1" fill="#000"/>
<rect x="1224" y="742" width="3" height="1" fill="#000"/>
<rect x="1230" y="742" width="3" height="1" fill="#000"/>
<rect x="1236" y="742" width="3" height="1" fill="#000"/>
<rect x="1242" y="742" width="3" height="1" fill="#000"/>
<rect x="1248" y="742" width="3" height="1" fill="#000"/>
<rect x="1254" y="742" width="3" height="1" fill="#000"/>
<rect x="1260" y="742" width="3" height="1" fill="#000"/>
<rect x="1266" y="742" width="3" height="1" fill="#000"/>
<rect x="1272" y="742" width="3" height="1" fill="#000"/>
<rect x="1278" y="742" width="3" height="1" fill="#000"/>
<rect x="1284" y="742" width="3" height="1" fill="#000"/>
<rect x="1290" y="742" width="3" height="1" fill="#000"/>
<rect x="1296" y="742" width="3" height="1" fill="#000"/>
<rect x="1302" y="742" width="3" height="1" fill="#000"/>
<rect x="1308" y="742" width="3" height="1" fill="#000"/>
<rect x="1314" y="742" width="3" height="1" fill="#000"/>
<rect x="1320" y="742" width="3" height="1" fill="#000"/>
<rect x="1326" y="742" width="3" height="1" fill="#000"/>
<rect x="1332" y="742" width="3" height="1" fill="#000"/>
<rect x="1338" y="742" width="3" height="1" fill="#000"/>
<rect x="1344" y="742" width="3" height="1" fill="#000"/>
<rect x="1350" y="742" width="3" height="1" fill="#000"/>
<rect x="1356" y="742" width="3" height="1" fill="#000"/>
<rect x="1362" y="742" width="3" height="1" fill="#000"/>
<rect x="1368" y="742" width="3" height="1" fill="#000"/>
<rect x="1374" y="742" width="3" height="1" fill="#000"/>
<rect x="1380" y="742" width="3" height="1" fill="#000"/>
<rect x="1386" y="742" width="3" height="1" fill="#000"/>
<rect x="1392" y="742" width="3" height="1" fill="#000"/>
<rect x="1398" y="742" width="3" height="1" fill="#000"/>
<rect x="1404" y="742" width="3" height="1" fill="#000"/>
<rect x="1410" y="742" width="3" height="1" fill="#000"/>
<rect x="1416" y="742" width="3" height="1" fill="#000"/>
<rect x="1422" y="742" width="3" height="1" fill="#000"/>
<rect x="1428" y="742" width="3" height="1" fill="#000"/>
<rect x="1434" y="742" width="3" height="1" fill="#000"/>
<rect x="1440" y="742" width="3" height="1" fill="#000"/>
<rect x="1446" y="742" width="3" height="1" fill="#000"/>
<rect x="1452" y="742" width="3" height="1" fill="#000"/>
<rect x="1458" y="742" width="3" height="1" fill="#000"/>
<rect x="1464" y="742" width="3" height="1" fill="#000"/>
<rect x="1470" y="742" width="3" height="1" fill="#000"/>
<rect x="1476" y="742" width="3" height="1" fill="#000"/>
<rect x="1482" y="742" width="3" height="1" fill="#000"/>
<rect x="1488" y="742" width="3" height="1" fill="#000"/>
<rect x="1494" y="742" width="3" height="1" fill="#000"/>
<rect x="1500" y="742" width="3" height="1" fill="#000"/>
<rect x="1506" y="742" width="3" height="1" fill="#000"/>
<rect x="1512" y="742" width="3" height="1" fill="#000"/>
<rect x="1518" y="742" width="3" height="1" fill="#000"/>
<rect x="1524" y="742" width="3" height="1" fill="#000"/>
<rect x="1530" y="742" width="3" height="1" fill="#000"/>
<rect x="1536" y="742" width="3" height="1" fill="#000"/>
<rect x="1542" y="742" width="3" height="1" fill="#000"/>
<rect x="1548" y="742" width="3" height="1" fill="#000"/>
<rect x="1554" y="742" width="3" height="1" fill="#000"/>
<rect x="1560" y="742" width="3" height="1" fill="#000"/>
<rect x="1566" y="742" width="3" height="1" fill="#000"/>
<rect x="1572" y="742" width="3" height="1" fill="#000"/>
<rect x="1578" y="742" width="3" height="1" fill="#000"/>
<rect x="1584" y="742" width="3" height="1" fill="#000"/>
<rect x="1590" y="742" width="3" height="1" fill="#000"/>
<rect x="1596" y="742" width="3" height="1" fill="#000"/>
<rect x="1602" y="742" width="3" height="1" fill="#000"/>
<rect x="1608" y="742" width="3" height="1" fill="#000"/>
<rect x="1614" y="742" width="3" height="1" fill="#000"/>
<rect x="1620" y="742" width="3" height="1" fill="#000"/>
<rect x="1626" y="742" width="3" height="1" fill="#000"/>
<rect x="1632" y="742" width="3" height="1" fill="#000"/>
<rect x="1638" y="742" width="3" height="1" fill="#000"/>
<rect x="6" y="773" width="3" height="1" fill="#000"/>
<rect x="12" y="773" width="3" height="1" fill="#000"/>
<rect x="18" y="773" width="3" height="1" fill="#000"/>
<rect x="24" y="773" width="3" height="1" fill="#000"/>
<rect x="30" y="773" width="3" height="1" fill="#000"/>
<rect x="36" y="773" width="3" height="1" fill="#000"/>
<rect x="42" y="773" width="3" height="1" fill="#000"/>
<rect x="48" y="773" width="3" height="1" fill="#000"/>
<rect x="54" y="773" width="3" height="1" fill="#000"/>
<rect x="60" y="773" width="3" height="1" fill="#000"/>
<rect x="66" y="773" width="3" height="1" fill="#000"/>
<rect x="72" y="773" width="3" height="1" fill="#000"/>
<rect x="78" y="773" width="3" height="1" fill="#000"/>
<rect x="84" y="773" width="3" height="1" fill="#000"/>
<rect x="90" y="773" width="3" height="1" fill="#000"/>
<rect x="96" y="773" width="3" height="1" fill="#000"/>
<rect x="102" y="773" width="3" height="1" fill="#000"/>
<rect x="108" y="773" width="3" height="1" fill="#000"/>
<rect x="114" y="773" width="3" height="1" fill="#000"/>
<rect x="120" y="773" width="3" height="1" fill="#000"/>
<rect x="126" y="773" width="3" height="1" fill="#000"/>
<rect x="132" y="773" width="3" height="1" fill="#000"/>
<rect x="138" y="773" width="3" height="1" fill="#000"/>
<rect x="144" y="773" width="3" height="1" fill="#000"/>
<rect x="150" y="773" width="3" height="1" fill="#000"/>
<rect x="156" y="773" width="3" height="1" fill="#000"/>
<rect x="162" y="773" width="3" height="1" fill="#000"/>
<rect x="168" y="773" width="3" height="1" fill="#000"/>
<rect x="174" y="773" width="3" height="1" fill="#000"/>
<rect x="180" y="773" width="3" height="1" fill="#000"/>
<rect x="186" y="773" width="3" height="1" fill="#000"/>
<rect x="192" y="773" width="3" height="1" fill="#000"/>
<rect x="198" y="773" width="3" height="1" fill="#000"/>
<rect x="204" y="773" width="3" height="1" fill="#000"/>
<rect x="210" y="773" width="3" height="1" fill="#000"/>
<rect x="216" y="773" width="3" height="1" fill="#000"/>
<rect x="222" y="773" width="3" height="1" fill="#000"/>
<rect x="228" y="773" width="3" height="1" fill="#000"/>
<rect x="234" y="773" width="3" height="1" fill="#000"/>
<rect x="240" y="773" width="3" height="1" fill="#000"/>
<rect x="246" y="773" width="3" height="1" fill="#000"/>
<rect x="252" y="773" width="3" height="1" fill="#000"/>
<rect x="258" y="773" width="3" height="1" fill="#000"/>
<rect x="264" y="773" width="3" height="1" fill="#000"/>
<rect x="270" y="773" width="3" height="1" fill="#000"/>
<rect x="276" y="773" width="3" height="1" fill="#000"/>
<rect x="282" y="773" width="3" height="1" fill="#000"/>
<rect x="288" y="773" width="3" height="1" fill="#000"/>
<rect x="294" y="773" width="3" height="1" fill="#000"/>
<rect x="300" y="773" width="3" height="1" fill="#000"/>
<rect x="306" y="773" width="3" height="1" fill="#000"/>
<rect x="312" y="773" width="3" height="1" fill="#000"/>
<rect x="318" y="773" width="3" height="1" fill="#000"/>
<rect x="324" y="773" width="3" height="1" fill="#000"/>
<rect x="330" y="773" width="3" height="1" fill="#000"/>
<rect x="336" y="773" width="3" height="1" fill="#000"/>
<rect x="342" y="773" width="3" height="1" fill="#000"/>
<rect x="348" y="773" width="3" height="1" fill="#000"/>
<rect x="354" y="773" width="3" height="1" fill="#000"/>
<rect x="360" y="773" width="3" height="1" fill="#000"/>
<rect x="366" y="773" width="3" height="1" fill="#000"/>
<rect x="372" y="773" width="3" height="1" fill="#000"/>
<rect x="378" y="773" width="3" height="1" fill="#000"/>
<rect x="384" y="773" width="3" height="1" fill="#000"/>
<rect x="390" y="773" width="3" height="1" fill="#000"/>
<rect x="396" y="773" width="3" height="1" fill="#000"/>
<rect x="402" y="773" width="3" height="1" fill="#000"/>
<rect x="408" y="773" width="3" height="1" fill="#000"/>
<rect x="414" y="773" width="3" height="1" fill="#000"/>
<rect x="420" y="773" width="3" height="1" fill="#000"/>
<rect x="426" y="773" width="3" height="1" fill="#000"/>
<rect x="432" y="773" width="3" height="1" fill="#000"/>
<rect x="438" y="773" width="3" height="1" fill="#000"/>
<rect x="444" y="773" width="3" height="1" fill="#000"/>
<rect x="450" y="773" width="3" height="1" fill="#000"/>
<rect x="456" y="773" width="3" height="1" fill="#000"/>
<rect x="462" y="773" width="3" height="1" fill="#000"/>
<rect x="468" y="773" width="3" height="1" fill="#000"/>
<rect x="474" y="773" width="3" height="1" fill="#000"/>
<rect x="480" y="773" width="3" height="1" fill="#000"/>
<rect x="486" y="773" width="3" height="1" fill="#000"/>
<rect x="492" y="773" width="3" height="1" fill="#000"/>
<rect x="498" y="773" width="3" height="1" fill="#000"/>
<rect x="504" y="773" width="3" height="1" fill="#000"/>
<rect x="510" y="773" width="3" height="1" fill="#000"/>
<rect x="516" y="773" width="3" height="1" fill="#000"/>
<rect x="522" y="773" width="3" height="1" fill="#000"/>
<rect x="528" y="773" width="3" height="1" fill="#000"/>
<rect x="534" y="773" width="3" height="1" fill="#000"/>
<rect x="540" y="773" width="3" height="1" fill="#000"/>
<rect x="546" y="773" width="3" height="1" fill="#000"/>
<rect x="552" y="773" width="3" height="1" fill="#000"/>
<rect x="558" y="773" width="3" height="1" fill="#000"/>
<rect x="564" y="773" width="3" height="1" fill="#000"/>
<rect x="570" y="773" width="3" height="1" fill="#000"/>
<rect x="576" y="773" width="3" height="1" fill="#000"/>
<rect x="582" y="773" width="3" height="1" fill="#000"/>
<rect x="588" y="773" width="3" height="1" fill="#000"/>
<rect x="594" y="773" width="3" height="1" fill="#000"/>
<rect x="600" y="773" width="3" height="1" fill="#000"/>
<rect x="606" y="773" width="3" height="1" fill="#000"/>
<rect x="612" y="773" width="3" height="1" fill="#000"/>
<rect x="618" y="773" width="3" height="1" fill="#000"/>
<rect x="624" y="773" width="3" height="1" fill="#000"/>
<rect x="630" y="773" width="3" height="1" fill="#000"/>
<rect x="636" y="773" width="3" height="1" fill="#000"/>
<rect x="642" y="773" width="3" height="1" fill="#000"/>
<rect x="648" y="773" width="3" height="1" fill="#000"/>
<rect x="654" y="773" width="3" height="1" fill="#000"/>
<rect x="660" y="773" width="3" height="1" fill="#000"/>
<rect x="666" y="773" width="3" height="1" fill="#000"/>
<rect x="672" y="773" width="3" height="1" fill="#000"/>
<rect x="678" y="773" width="3" height="1" fill="#000"/>
<rect x="684" y="773" width="3" height="1" fill="#000"/>
<rect x="690" y="773" width="3" height="1" fill="#000"/>
<rect x="696" y="773" width="3" height="1" fill="#000"/>
<rect x="702" y="773" width="3" height="1" fill="#000"/>
<rect x="708" y="773" width="3" height="1" fill="#000"/>
<rect x="714" y="773" width="3" height="1" fill="#000"/>
<rect x="720" y="773" width="3" height="1" fill="#000"/>
<rect x="726" y="773" width="3" height="1" fill="#000"/>
<rect x="732" y="773" width="3" height="1" fill="#000"/>
<rect x="738" y="773" width="3" height="1" fill="#000"/>
<rect x="744" y="773" width="3" height="1" fill="#000"/>
<rect x="750" y="773" width="3" height="1" fill="#000"/>
<rect x="756" y="773" width="3" height="1" fill="#000"/>
<rect x="762" y="773" width="3" height="1" fill="#000"/>
<rect x="768" y="773" width="3" height="1" fill="#000"/>
<rect x="774" y="773" width="3" height="1" fill="#000"/>
<rect x="780" y="773" width="3" height="1" fill="#000"/>
<rect x="786" y="773" width="3" height="1" fill="#000"/>
<rect x="792" y="773" width="3" height="1" fill="#000"/>
<rect x="798" y="773" width="3" height="1" fill="#000"/>
<rect x="804" y="773" width="3" height="1" fill="#000"/>
<rect x="810" y="773" width="3" height="1" fill="#000"/>
<rect x="816" y="773" width="3" height="1" fill="#000"/>
<rect x="822" y="773" width="3" height="1" fill="#000"/>
<rect x="828" y="773" width="3" height="1" fill="#000"/>
<rect x="834" y="773" width="3" height="1" fill="#000"/>
<rect x="840" y="773" width="3" height="1" fill="#000"/>
<rect x="846" y="773" width="3" height="1" fill="#000"/>
<rect x="852" y="773" width="3" height="1" fill="#000"/>
<rect x="858" y="773" width="3" height="1" fill="#000"/>
<rect x="864" y="773" width="3" height="1" fill="#000"/>
<rect x="870" y="773" width="3" height="1" fill="#000"/>
<rect x="876" y="773" width="3" height="1" fill="#000"/>
<rect x="882" y="773" width="3" height="1" fill="#000"/>
<rect x="888" y="773" width="3" height="1" fill="#000"/>
<rect x="894" y="773" width="3" height="1" fill="#000"/>
<rect x="900" y="773" width="3" height="1" fill="#000"/>
<rect x="906" y="773" width="3" height="1" fill="#000"/>
<rect x="912" y="773" width="3" height="1" fill="#000"/>
<rect x="918" y="773" width="3" height="1" fill="#000"/>
<rect x="924" y="773" width="3" height="1" fill="#000"/>
<rect x="930" y="773" width="3" height="1" fill="#000"/>
<rect x="936" y="773" width="3" height="1" fill="#000"/>
<rect x="942" y="773" width="3" height="1" fill="#000"/>
<rect x="948" y="773" width="3" height="1" fill="#000"/>
<rect x="954" y="773" width="3" height="1" fill="#000"/>
<rect x="960" y="773" width="3" height="1" fill="#000"/>
<rect x="966" y="773" width="3" height="1" fill="#000"/>
<rect x="972" y="773" width="3" height="1" fill="#000"/>
<rect x="978" y="773" width="3" height="1" fill="#000"/>
<rect x="984" y="773" width="3" height="1" fill="#000"/>
<rect x="990" y="773" width="3" height="1" fill="#000"/>
<rect x="996" y="773" width="3" height="1" fill="#000"/>
<rect x="1002" y="773" width="3" height="1" fill="#000"/>
<rect x="1008" y="773" width="3" height="1" fill="#000"/>
<rect x="1014" y="773" width="3" height="1" fill="#000"/>
<rect x="1020" y="773" width="3" height="1" fill="#000"/>
<rect x="1026" y="773" width="3" height="1" fill="#000"/>
<rect x="1032" y="773" width="3" height="1" fill="#000"/>
<rect x="1038" y="773" width="3" height="1" fill="#000"/>
<rect x="1044" y="773" width="3" height="1" fill="#000"/>
<rect x="1050" y="773" width="3" height="1" fill="#000"/>
<rect x="1056" y="773" width="3" height="1" fill="#000"/>
<rect x="1062" y="773" width="3" height="1" fill="#000"/>
<rect x="1068" y="773" width="3" height="1" fill="#000"/>
<rect x="1074" y="773" width="3" height="1" fill="#000"/>
<rect x="1080" y="773" width="3" height="1" fill="#000"/>
<rect x="1086" y="773" width="3" height="1" fill="#000"/>
<rect x="1092" y="773" width="3" height="1" fill="#000"/>
<rect x="1098" y="773" width="3" height="1" fill="#000"/>
<rect x="1104" y="773" width="3" height="1" fill="#000"/>
<rect x="1110" y="773" width="3" height="1" fill="#000"/>
<rect x="1116" y="773" width="3" height="1" fill="#000"/>
<rect x="1122" y="773" width="3" height="1" fill="#000"/>
<rect x="1128" y="773" width="3" height="1" fill="#000"/>
<rect x="1134" y="773" width="3" height="1" fill="#000"/>
<rect x="1140" y="773" width="3" height="1" fill="#000"/>
<rect x="1146" y="773" width="3" height="1" fill="#000"/>
<rect x="1152" y="773" width="3" height="1" fill="#000"/>
<rect x="1158" y="773" width="3" height="1" fill="#000"/>
<rect x="1164" y="773" width="3" height="1" fill="#000"/>
<rect x="1170" y="773" width="3" height="1" fill="#000"/>
<rect x="1176" y="773" width="3" height="1" fill="#000"/>
<rect x="1182" y="773" width="3" height="1" fill="#000"/>
<rect x="1188" y="773" width="3" height="1" fill="#000"/>
<rect x="1194" y="773" width="3" height="1" fill="#000"/>
<rect x="1200" y="773" width="3" height="1" fill="#000"/>
<rect x="1206" y="773" width="3" height="1" fill="#000"/>
<rect x="1212" y="773" width="3" height="1" fill="#000"/>
<rect x="1218" y="773" width="3" height="1" fill="#000"/>
<rect x="1224" y="773" width="3" height="1" fill="#000"/>
<rect x="1230" y="773" width="3" height="1" fill="#000"/>
<rect x="1236" y="773" width="3" height="1" fill="#000"/>
<rect x="1242" y="773" width="3" height="1" fill="#000"/>
<rect x="1248" y="773" width="3" height="1" fill="#000"/>
<rect x="1254" y="773" width="3" height="1" fill="#000"/>
<rect x="1260" y="773" width="3" height="1" fill="#000"/>
<rect x="1266" y="773" width="3" height="1" fill="#000"/>
<rect x="1272" y="773" width="3" height="1" fill="#000"/>
<rect x="1278" y="773" width="3" height="1" fill="#000"/>
<rect x="1284" y="773" width="3" height="1" fill="#000"/>
<rect x="1290" y="773" width="3" height="1" fill="#000"/>
<rect x="1296" y="773" width="3" height="1" fill="#000"/>
<rect x="1302" y="773" width="3" height="1" fill="#000"/>
<rect x="1308" y="773" width="3" height="1" fill="#000"/>
<rect x="1314" y="773" width="3" height="1" fill="#000"/>
<rect x="1320" y="773" width="3" height="1" fill="#000"/>
<rect x="1326" y="773" width="3" height="1" fill="#000"/>
<rect x="1332" y="773" width="3" height="1" fill="#000"/>
<rect x="1338" y="773" width="3" height="1" fill="#000"/>
<rect x="1344" y="773" width="3" height="1" fill="#000"/>
<rect x="1350" y="773" width="3" height="1" fill="#000"/>
<rect x="1356" y="773" width="3" height="1" fill="#000"/>
<rect x="1362" y="773" width="3" height="1" fill="#000"/>
<rect x="1368" y="773" width="3" height="1" fill="#000"/>
<rect x="1374" y="773" width="3" height="1" fill="#000"/>
<rect x="1380" y="773" width="3" height="1" fill="#000"/>
<rect x="1386" y="773" width="3" height="1" fill="#000"/>
<rect x="1392" y="773" width="3" height="1" fill="#000"/>
<rect x="1398" y="773" width="3" height="1" fill="#000"/>
<rect x="1404" y="773" width="3" height="1" fill="#000"/>
<rect x="1410" y="773" width="3" height="1" fill="#000"/>
<rect x="1416" y="773" width="3" height="1" fill="#000"/>
<rect x="1422" y="773" width="3" height="1" fill="#000"/>
<rect x="1428" y="773" width="3" height="1" fill="#000"/>
<rect x="1434" y="773" width="3" height="1" fill="#000"/>
<rect x="1440" y="773" width="3" height="1" fill="#000"/>
<rect x="1446" y="773" width="3" height="1" fill="#000"/>
<rect x="1452" y="773" width="3" height="1" fill="#000"/>
<rect x="1458" y="773" width="3" height="1" fill="#000"/>
<rect x="1464" y="773" width="3" height="1" fill="#000"/>
<rect x="1470" y="773" width="3" height="1" fill="#000"/>
<rect x="1476" y="773" width="3" height="1" fill="#000"/>
<rect x="1482" y="773" width="3" height="1" fill="#000"/>
<rect x="1488" y="773" width="3" height="1" fill="#000"/>
<rect x="1494" y="773" width="3" height="1" fill="#000"/>
<rect x="1500" y="773" width="3" height="1" fill="#000"/>
<rect x="1506" y="773" width="3" height="1" fill="#000"/>
<rect x="1512" y="773" width="3" height="1" fill="#000"/>
<rect x="1518" y="773" width="3" height="1" fill="#000"/>
<rect x="1524" y="773" width="3" height="1" fill="#000"/>
<rect x="1530" y="773" width="3" height="1" fill="#000"/>
<rect x="1536" y="773" width="3" height="1" fill="#000"/>
<rect x="1542" y="773" width="3" height="1" fill="#000"/>
<rect x="1548" y="773" width="3" height="1" fill="#000"/>
<rect x="1554" y="773" width="3" height="1" fill="#000"/>
<rect x="1560" y="773" width="3" height="1" fill="#000"/>
<rect x="1566" y="773" width="3" height="1" fill="#000"/>
<rect x="1572" y="773" width="3" height="1" fill="#000"/>
<rect x="1578" y="773" width="3" height="1" fill="#000"/>
<rect x="1584" y="773" width="3" height="1" fill="#000"/>
<rect x="1590" y="773" width="3" height="1" fill="#000"/>
<rect x="1596" y="773" width="3" height="1" fill="#000"/>
<rect x="1602" y="773" width="3" height="1" fill="#000"/>
<rect x="1608" y="773" width="3" height="1" fill="#000"/>
<rect x="1614" y="773" width="3" height="1" fill="#000"/>
<rect x="1620" y="773" width="3" height="1" fill="#000"/>
<rect x="1626" y="773" width="3" height="1" fill="#000"/>
<rect x="1632" y="773" width="3" height="1" fill="#000"/>
<rect x="1638" y="773" width="3" height="1" fill="#000"/>
<rect x="6" y="809" width="3" height="1" fill="#000"/>
<rect x="12" y="809" width="3" height="1" fill="#000"/>
<rect x="18" y="809" width="3" height="1" fill="#000"/>
<rect x="24" y="809" width="3" height="1" fill="#000"/>
<rect x="30" y="809" width="3" height="1" fill="#000"/>
<rect x="36" y="809" width="3" height="1" fill="#000"/>
<rect x="42" y="809" width="3" height="1" fill="#000"/>
<rect x="48" y="809" width="3" height="1" fill="#000"/>
<rect x="54" y="809" width="3" height="1" fill="#000"/>
<rect x="60" y="809" width="3" height="1" fill="#000"/>
<rect x="66" y="809" width="3" height="1" fill="#000"/>
<rect x="72" y="809" width="3" height="1" fill="#000"/>
<rect x="78" y="809" width="3" height="1" fill="#000"/>
<rect x="84" y="809" width="3" height="1" fill="#000"/>
<rect x="90" y="809" width="3" height="1" fill="#000"/>
<rect x="96" y="809" width="3" height="1" fill="#000"/>
<rect x="102" y="809" width="3" height="1" fill="#000"/>
<rect x="108" y="809" width="3" height="1" fill="#000"/>
<rect x="114" y="809" width="3" height="1" fill="#000"/>
<rect x="120" y="809" width="3" height="1" fill="#000"/>
<rect x="126" y="809" width="3" height="1" fill="#000"/>
<rect x="132" y="809" width="3" height="1" fill="#000"/>
<rect x="138" y="809" width="3" height="1" fill="#000"/>
<rect x="144" y="809" width="3" height="1" fill="#000"/>
<rect x="150" y="809" width="3" height="1" fill="#000"/>
<rect x="156" y="809" width="3" height="1" fill="#000"/>
<rect x="162" y="809" width="3" height="1" fill="#000"/>
<rect x="168" y="809" width="3" height="1" fill="#000"/>
<rect x="174" y="809" width="3" height="1" fill="#000"/>
<rect x="180" y="809" width="3" height="1" fill="#000"/>
<rect x="186" y="809" width="3" height="1" fill="#000"/>
<rect x="192" y="809" width="3" height="1" fill="#000"/>
<rect x="198" y="809" width="3" height="1" fill="#000"/>
<rect x="204" y="809" width="3" height="1" fill="#000"/>
<rect x="210" y="809" width="3" height="1" fill="#000"/>
<rect x="216" y="809" width="3" height="1" fill="#000"/>
<rect x="222" y="809" width="3" height="1" fill="#000"/>
<rect x="228" y="809" width="3" height="1" fill="#000"/>
<rect x="234" y="809" width="3" height="1" fill="#000"/>
<rect x="240" y="809" width="3" height="1" fill="#000"/>
<rect x="246" y="809" width="3" height="1" fill="#000"/>
<rect x="252" y="809" width="3" height="1" fill="#000"/>
<rect x="258" y="809" width="3" height="1" fill="#000"/>
<rect x="264" y="809" width="3" height="1" fill="#000"/>
<rect x="270" y="809" width="3" height="1" fill="#000"/>
<rect x="276" y="809" width="3" height="1" fill="#000"/>
<rect x="282" y="809" width="3" height="1" fill="#000"/>
<rect x="288" y="809" width="3" height="1" fill="#000"/>
<rect x="294" y="809" width="3" height="1" fill="#000"/>
<rect x="300" y="809" width="3" height="1" fill="#000"/>
<rect x="306" y="809" width="3" height="1" fill="#000"/>
<rect x="312" y="809" width="3" height="1" fill="#000"/>
<rect x="318" y="809" width="3" height="1" fill="#000"/>
<rect x="324" y="809" width="3" height="1" fill="#000"/>
<rect x="330" y="809" width="3" height="1" fill="#000"/>
<rect x="336" y="809" width="3" height="1" fill="#000"/>
<rect x="342" y="809" width="3" height="1" fill="#000"/>
<rect x="348" y="809" width="3" height="1" fill="#000"/>
<rect x="354" y="809" width="3" height="1" fill="#000"/>
<rect x="360" y="809" width="3" height="1" fill="#000"/>
<rect x="366" y="809" width="3" height="1" fill="#000"/>
<rect x="372" y="809" width="3" height="1" fill="#000"/>
<rect x="378" y="809" width="3" height="1" fill="#000"/>
<rect x="384" y="809" width="3" height="1" fill="#000"/>
<rect x="390" y="809" width="3" height="1" fill="#000"/>
<rect x="396" y="809" width="3" height="1" fill="#000"/>
<rect x="402" y="809" width="3" height="1" fill="#000"/>
<rect x="408" y="809" width="3" height="1" fill="#000"/>
<rect x="414" y="809" width="3" height="1" fill="#000"/>
<rect x="420" y="809" width="3" height="1" fill="#000"/>
<rect x="426" y="809" width="3" height="1" fill="#000"/>
<rect x="432" y="809" width="3" height="1" fill="#000"/>
<rect x="438" y="809" width="3" height="1" fill="#000"/>
<rect x="444" y="809" width="3" height="1" fill="#000"/>
<rect x="450" y="809" width="3" height="1" fill="#000"/>
<rect x="456" y="809" width="3" height="1" fill="#000"/>
<rect x="462" y="809" width="3" height="1" fill="#000"/>
<rect x="468" y="809" width="3" height="1" fill="#000"/>
<rect x="474" y="809" width="3" height="1" fill="#000"/>
<rect x="480" y="809" width="3" height="1" fill="#000"/>
<rect x="486" y="809" width="3" height="1" fill="#000"/>
<rect x="492" y="809" width="3" height="1" fill="#000"/>
<rect x="498" y="809" width="3" height="1" fill="#000"/>
<rect x="504" y="809" width="3" height="1" fill="#000"/>
<rect x="510" y="809" width="3" height="1" fill="#000"/>
<rect x="516" y="809" width="3" height="1" fill="#000"/>
<rect x="522" y="809" width="3" height="1" fill="#000"/>
<rect x="528" y="809" width="3" height="1" fill="#000"/>
<rect x="534" y="809" width="3" height="1" fill="#000"/>
<rect x="540" y="809" width="3" height="1" fill="#000"/>
<rect x="546" y="809" width="3" height="1" fill="#000"/>
<rect x="552" y="809" width="3" height="1" fill="#000"/>
<rect x="558" y="809" width="3" height="1" fill="#000"/>
<rect x="564" y="809" width="3" height="1" fill="#000"/>
<rect x="570" y="809" width="3" height="1" fill="#000"/>
<rect x="576" y="809" width="3" height="1" fill="#000"/>
<rect x="582" y="809" width="3" height="1" fill="#000"/>
<rect x="588" y="809" width="3" height="1" fill="#000"/>
<rect x="594" y="809" width="3" height="1" fill="#000"/>
<rect x="600" y="809" width="3" height="1" fill="#000"/>
<rect x="606" y="809" width="3" height="1" fill="#000"/>
<rect x="612" y="809" width="3" height="1" fill="#000"/>
<rect x="618" y="809" width="3" height="1" fill="#000"/>
<rect x="624" y="809" width="3" height="1" fill="#000"/>
<rect x="630" y="809" width="3" height="1" fill="#000"/>
<rect x="636" y="809" width="3" height="1" fill="#000"/>
<rect x="642" y="809" width="3" height="1" fill="#000"/>
<rect x="648" y="809" width="3" height="1" fill="#000"/>
<rect x="654" y="809" width="3" height="1" fill="#000"/>
<rect x="660" y="809" width="3" height="1" fill="#000"/>
<rect x="666" y="809" width="3" height="1" fill="#000"/>
<rect x="672" y="809" width="3" height="1" fill="#000"/>
<rect x="678" y="809" width="3" height="1" fill="#000"/>
<rect x="684" y="809" width="3" height="1" fill="#000"/>
<rect x="690" y="809" width="3" height="1" fill="#000"/>
<rect x="696" y="809" width="3" height="1" fill="#000"/>
<rect x="702" y="809" width="3" height="1" fill="#000"/>
<rect x="708" y="809" width="3" height="1" fill="#000"/>
<rect x="714" y="809" width="3" height="1" fill="#000"/>
<rect x="720" y="809" width="3" height="1" fill="#000"/>
<rect x="726" y="809" width="3" height="1" fill="#000"/>
<rect x="732" y="809" width="3" height="1" fill="#000"/>
<rect x="738" y="809" width="3" height="1" fill="#000"/>
<rect x="744" y="809" width="3" height="1" fill="#000"/>
<rect x="750" y="809" width="3" height="1" fill="#000"/>
<rect x="756" y="809" width="3" height="1" fill="#000"/>
<rect x="762" y="809" width="3" height="1" fill="#000"/>
<rect x="768" y="809" width="3" height="1" fill="#000"/>
<rect x="774" y="809" width="3" height="1" fill="#000"/>
<rect x="780" y="809" width="3" height="1" fill="#000"/>
<rect x="786" y="809" width="3" height="1" fill="#000"/>
<rect x="792" y="809" width="3" height="1" fill="#000"/>
<rect x="798" y="809" width="3" height="1" fill="#000"/>
<rect x="804" y="809" width="3" height="1" fill="#000"/>
<rect x="810" y="809" width="3" height="1" fill="#000"/>
<rect x="816" y="809" width="3" height="1" fill="#000"/>
<rect x="822" y="809" width="3" height="1" fill="#000"/>
<rect x="828" y="809" width="3" height="1" fill="#000"/>
<rect x="834" y="809" width="3" height="1" fill="#000"/>
<rect x="840" y="809" width="3" height="1" fill="#000"/>
<rect x="846" y="809" width="3" height="1" fill="#000"/>
<rect x="852" y="809" width="3" height="1" fill="#000"/>
<rect x="858" y="809" width="3" height="1" fill="#000"/>
<rect x="864" y="809" width="3" height="1" fill="#000"/>
<rect x="870" y="809" width="3" height="1" fill="#000"/>
<rect x="876" y="809" width="3" height="1" fill="#000"/>
<rect x="882" y="809" width="3" height="1" fill="#000"/>
<rect x="888" y="809" width="3" height="1" fill="#000"/>
<rect x="894" y="809" width="3" height="1" fill="#000"/>
<rect x="900" y="809" width="3" height="1" fill="#000"/>
<rect x="906" y="809" width="3" height="1" fill="#000"/>
<rect x="912" y="809" width="3" height="1" fill="#000"/>
<rect x="918" y="809" width="3" height="1" fill="#000"/>
<rect x="924" y="809" width="3" height="1" fill="#000"/>
<rect x="930" y="809" width="3" height="1" fill="#000"/>
<rect x="936" y="809" width="3" height="1" fill="#000"/>
<rect x="942" y="809" width="3" height="1" fill="#000"/>
<rect x="948" y="809" width="3" height="1" fill="#000"/>
<rect x="954" y="809" width="3" height="1" fill="#000"/>
<rect x="960" y="809" width="3" height="1" fill="#000"/>
<rect x="966" y="809" width="3" height="1" fill="#000"/>
<rect x="972" y="809" width="3" height="1" fill="#000"/>
<rect x="978" y="809" width="3" height="1" fill="#000"/>
<rect x="984" y="809" width="3" height="1" fill="#000"/>
<rect x="990" y="809" width="3" height="1" fill="#000"/>
<rect x="996" y="809" width="3" height="1" fill="#000"/>
<rect x="1002" y="809" width="3" height="1" fill="#000"/>
<rect x="1008" y="809" width="3" height="1" fill="#000"/>
<rect x="1014" y="809" width="3" height="1" fill="#000"/>
<rect x="1020" y="809" width="3" height="1" fill="#000"/>
<rect x="1026" y="809" width="3" height="1" fill="#000"/>
<rect x="1032" y="809" width="3" height="1" fill="#000"/>
<rect x="1038" y="809" width="3" height="1" fill="#000"/>
<rect x="1044" y="809" width="3" height="1" fill="#000"/>
<rect x="1050" y="809" width="3" height="1" fill="#000"/>
<rect x="1056" y="809" width="3" height="1" fill="#000"/>
<rect x="1062" y="809" width="3" height="1" fill="#000"/>
<rect x="1068" y="809" width="3" height="1" fill="#000"/>
<rect x="1074" y="809" width="3" height="1" fill="#000"/>
<rect x="1080" y="809" width="3" height="1" fill="#000"/>
<rect x="1086" y="809" width="3" height="1" fill="#000"/>
<rect x="1092" y="809" width="3" height="1" fill="#000"/>
<rect x="1098" y="809" width="3" height="1" fill="#000"/>
<rect x="1104" y="809" width="3" height="1" fill="#000"/>
<rect x="1110" y="809" width="3" height="1" fill="#000"/>
<rect x="1116" y="809" width="3" height="1" fill="#000"/>
<rect x="1122" y="809" width="3" height="1" fill="#000"/>
<rect x="1128" y="809" width="3" height="1" fill="#000"/>
<rect x="1134" y="809" width="3" height="1" fill="#000"/>
<rect x="1140" y="809" width="3" height="1" fill="#000"/>
<rect x="1146" y="809" width="3" height="1" fill="#000"/>
<rect x="1152" y="809" width="3" height="1" fill="#000"/>
<rect x="1158" y="809" width="3" height="1" fill="#000"/>
<rect x="1164" y="809" width="3" height="1" fill="#000"/>
<rect x="1170" y="809" width="3" height="1" fill="#000"/>
<rect x="1176" y="809" width="3" height="1" fill="#000"/>
<rect x="1182" y="809" width="3" height="1" fill="#000"/>
<rect x="1188" y="809" width="3" height="1" fill="#000"/>
<rect x="1194" y="809" width="3" height="1" fill="#000"/>
<rect x="1200" y="809" width="3" height="1" fill="#000"/>
<rect x="1206" y="809" width="3" height="1" fill="#000"/>
<rect x="1212" y="809" width="3" height="1" fill="#000"/>
<rect x="1218" y="809" width="3" height="1" fill="#000"/>
<rect x="1224" y="809" width="3" height="1" fill="#000"/>
<rect x="1230" y="809" width="3" height="1" fill="#000"/>
<rect x="1236" y="809" width="3" height="1" fill="#000"/>
<rect x="1242" y="809" width="3" height="1" fill="#000"/>
<rect x="1248" y="809" width="3" height="1" fill="#000"/>
<rect x="1254" y="809" width="3" height="1" fill="#000"/>
<rect x="1260" y="809" width="3" height="1" fill="#000"/>
<rect x="1266" y="809" width="3" height="1" fill="#000"/>
<rect x="1272" y="809" width="3" height="1" fill="#000"/>
<rect x="1278" y="809" width="3" height="1" fill="#000"/>
<rect x="1284" y="809" width="3" height="1" fill="#000"/>
<rect x="1290" y="809" width="3" height="1" fill="#000"/>
<rect x="1296" y="809" width="3" height="1" fill="#000"/>
<rect x="1302" y="809" width="3" height="1" fill="#000"/>
<rect x="1308" y="809" width="3" height="1" fill="#000"/>
<rect x="1314" y="809" width="3" height="1" fill="#000"/>
<rect x="1320" y="809" width="3" height="1" fill="#000"/>
<rect x="1326" y="809" width="3" height="1" fill="#000"/>
<rect x="1332" y="809" width="3" height="1" fill="#000"/>
<rect x="1338" y="809" width="3" height="1" fill="#000"/>
<rect x="1344" y="809" width="3" height="1" fill="#000"/>
<rect x="1350" y="809" width="3" height="1" fill="#000"/>
<rect x="1356" y="809" width="3" height="1" fill="#000"/>
<rect x="1362" y="809" width="3" height="1" fill="#000"/>
<rect x="1368" y="809" width="3" height="1" fill="#000"/>
<rect x="1374" y="809" width="3" height="1" fill="#000"/>
<rect x="1380" y="809" width="3" height="1" fill="#000"/>
<rect x="1386" y="809" width="3" height="1" fill="#000"/>
<rect x="1392" y="809" width="3" height="1" fill="#000"/>
<rect x="1398" y="809" width="3" height="1" fill="#000"/>
<rect x="1404" y="809" width="3" height="1" fill="#000"/>
<rect x="1410" y="809" width="3" height="1" fill="#000"/>
<rect x="1416" y="809" width="3" height="1" fill="#000"/>
<rect x="1422" y="809" width="3" height="1" fill="#000"/>
<rect x="1428" y="809" width="3" height="1" fill="#000"/>
<rect x="1434" y="809" width="3" height="1" fill="#000"/>
<rect x="1440" y="809" width="3" height="1" fill="#000"/>
<rect x="1446" y="809" width="3" height="1" fill="#000"/>
<rect x="1452" y="809" width="3" height="1" fill="#000"/>
<rect x="1458" y="809" width="3" height="1" fill="#000"/>
<rect x="1464" y="809" width="3" height="1" fill="#000"/>
<rect x="1470" y="809" width="3" height="1" fill="#000"/>
<rect x="1476" y="809" width="3" height="1" fill="#000"/>
<rect x="1482" y="809" width="3" height="1" fill="#000"/>
<rect x="1488" y="809" width="3" height="1" fill="#000"/>
<rect x="1494" y="809" width="3" height="1" fill="#000"/>
<rect x="1500" y="809" width="3" height="1" fill="#000"/>
<rect x="1506" y="809" width="3" height="1" fill="#000"/>
<rect x="1512" y="809" width="3" height="1" fill="#000"/>
<rect x="1518" y="809" width="3" height="1" fill="#000"/>
<rect x="1524" y="809" width="3" height="1" fill="#000"/>
<rect x="1530" y="809" width="3" height="1" fill="#000"/>
<rect x="1536" y="809" width="3" height="1" fill="#000"/>
<rect x="1542" y="809" width="3" height="1" fill="#000"/>
<rect x="1548" y="809" width="3" height="1" fill="#000"/>
<rect x="1554" y="809" width="3" height="1" fill="#000"/>
<rect x="1560" y="809" width="3" height="1" fill="#000"/>
<rect x="1566" y="809" width="3" height="1" fill="#000"/>
<rect x="1572" y="809" width="3" height="1" fill="#000"/>
<rect x="1578" y="809" width="3" height="1" fill="#000"/>
<rect x="1584" y="809" width="3" height="1" fill="#000"/>
<rect x="1590" y="809" width="3" height="1" fill="#000"/>
<rect x="1596" y="809" width="3" height="1" fill="#000"/>
<rect x="1602" y="809" width="3" height="1" fill="#000"/>
<rect x="1608" y="809" width="3" height="1" fill="#000"/>
<rect x="1614" y="809" width="3" height="1" fill="#000"/>
<rect x="1620" y="809" width="3" height="1" fill="#000"/>
<rect x="1626" y="809" width="3" height="1" fill="#000"/>
<rect x="1632" y="809" width="3" height="1" fill="#000"/>
<rect x="1638" y="809" width="3" height="1" fill="#000"/>
<polyline points="5,781.7 21,781.7 37,781.7 53,772.8 69,778.6 85,778.6 101,775.1 117,775.1 133,775.9 149,774.7 165,774.7 181,769.6 197,771.8 213,768.3 229,766.7 245,767.7 261,764.4 277,761.8 293,761.8 309,761.8 325,773.5 341,773.5 357,769.8 373,769.8 389,764.0 405,775.7 421,771.8 437,771.8 453,772.8 469,777.6 485,776.7 501,773.5 517,771.2 533,766.9 549,766.7 565,765.0 581,764.8 597,764.0 613,764.0 629,764.0 645,771.8 661,770.2 677,769.8 693,771.8 709,769.6 725,767.9 741,760.5 757,753.3 773,752.9 789,749.8 805,748.8 821,751.1 837,759.9 853,752.3 869,752.3 885,754.0 901,753.3 917,752.3 933,750.1 949,749.4 965,747.2 981,746.8 997,746.8 1013,746.8 1029,748.8 1045,747.8 1061,757.6 1077,757.6 1093,754.2 1109,753.7 1125,752.3 1141,750.7 1157,764.4 1173,766.7 1189,766.7 1205,765.7 1221,781.5 1237,783.7 1253,789.7 1269,787.1 1285,785.8 1301,787.1 1317,792.7 1333,786.2 1349,785.8 1365,781.0 1381,781.9" fill="none" stroke="#1e90ff" stroke-width="2"/>
</g>
<text transform="translate(8.3,733) scale(0.975,1)" x="0" y="0" fill="#000" style='font-family:"Liberation Sans", sans-serif;font-size:9.8px' >RSI(14) 41.5580</text>
<rect x="1645" y="722" width="1" height="1" fill="#000"/>
<text transform="translate(1648,731) scale(0.975,1)" x="0" y="0" fill="#000" style='font-family:"Liberation Sans", sans-serif;font-size:9.8px' >100</text>
<rect x="1645" y="742" width="1" height="1" fill="#000"/>
<text transform="translate(1648,746) scale(0.975,1)" x="0" y="0" fill="#000" style='font-family:"Liberation Sans", sans-serif;font-size:9.8px' >80</text>
<rect x="1645" y="773" width="1" height="1" fill="#000"/>
<text transform="translate(1648,777) scale(0.975,1)" x="0" y="0" fill="#000" style='font-family:"Liberation Sans", sans-serif;font-size:9.8px' >50</text>
<rect x="1645" y="809" width="1" height="1" fill="#000"/>
<text transform="translate(1648,813) scale(0.975,1)" x="0" y="0" fill="#000" style='font-family:"Liberation Sans", sans-serif;font-size:9.8px' >15</text>
<rect x="1645" y="825" width="1" height="1" fill="#000"/>
<text transform="translate(1648,822) scale(0.975,1)" x="0" y="0" fill="#000" style='font-family:"Liberation Sans", sans-serif;font-size:9.8px' >0</text>
<rect x="5" y="826" width="1" height="3" fill="#000"/>
<text transform="translate(4,838) scale(0.975,1)" x="0" y="0" fill="#000" style='font-family:"Liberation Sans", sans-serif;font-size:9.8px' >17 Mar 2023</text>
<rect x="69" y="826" width="1" height="3" fill="#000"/>
<text transform="translate(68,838) scale(0.975,1)" x="0" y="0" fill="#000" style='font-family:"Liberation Sans", sans-serif;font-size:9.8px' >20 Mar 00:00</text>
<rect x="133" y="826" width="1" height="3" fill="#000"/>
<text transform="translate(132,838) scale(0.975,1)" x="0" y="0" fill="#000" style='font-family:"Liberation Sans", sans-serif;font-size:9.8px' >20 Mar 18:55</text>
<rect x="197" y="826" width="1" height="3" fill="#000"/>
<text transform="translate(196,838) scale(0.975,1)" x="0" y="0" fill="#000" style='font-family:"Liberation Sans", sans-serif;font-size:9.8px' >21 Mar 10:55</text>
<rect x="261" y="826" width="1" height="3" fill="#000"/>
<text transform="translate(260,838) scale(0.975,1)" x="0" y="0" fill="#000" style='font-family:"Liberation Sans", sans-serif;font-size:9.8px' >22 Mar 00:00</text>
<rect x="325" y="826" width="1" height="3" fill="#000"/>
<text transform="translate(324,838) scale(0.975,1)" x="0" y="0" fill="#000" style='font-family:"Liberation Sans", sans-serif;font-size:9.8px' >22 Mar 18:55</text>
<rect x="389" y="826" width="1" height="3" fill="#000"/>
<text transform="translate(388,838) scale(0.975,1)" x="0" y="0" fill="#000" style='font-family:"Liberation Sans", sans-serif;font-size:9.8px' >23 Mar 10:55</text>
<rect x="453" y="826" width="1" height="3" fill="#000"/>
<text transform="translate(452,838) scale(0.975,1)" x="0" y="0" fill="#000" style='font-family:"Liberation Sans", sans-serif;font-size:9.8px' >24 Mar 00:00</text>
<rect x="517" y="826" width="1" height="3" fill="#000"/>
<text transform="translate(516,838) scale(0.975,1)" x="0" y="0" fill="#000" style='font-family:"Liberation Sans", sans-serif;font-size:9.8px' >24 Mar 18:55</text>
<rect x="581" y="826" width="1" height="3" fill="#000"/>
<text transform="translate(580,838) scale(0.975,1)" x="0" y="0" fill="#000" style='font-family:"Liberation Sans", sans-serif;font-size:9.8px' >27 Mar 10:55</text>
<rect x="645" y="826" width="1" height="3" fill="#000"/>
<text transform="translate(644,838) scale(0.975,1)" x="0" y="0" fill="#000" style='font-family:"Liberation Sans", sans-serif;font-size:9.8px' >28 Mar 00:00</text>
<rect x="709" y="826" width="1" height="3" fill="#000"/>
<text transform="translate(708,838) scale(0.975,1)" x="0" y="0" fill="#000" style='font-family:"Liberation Sans", sans-serif;font-size:9.8px' >28 Mar 18:55</text>
<rect x="773" y="826" width="1" height="3" fill="#000"/>
<text transform="translate(772,838) scale(0.975,1)" x="0" y="0" fill="#000" style='font-family:"Liberation Sans", sans-serif;font-size:9.8px' >29 Mar 10:55</text>
<rect x="837" y="826" width="1" height="3" fill="#000"/>
<text transform="translate(836,838) scale(0.975,1)" x="0" y="0" fill="#000" style='font-family:"Liberation Sans", sans-serif;font-size:9.8px' >30 Mar 00:00</text>
<rect x="901" y="826" width="1" height="3" fill="#000"/>
<text transform="translate(900,838) scale(0.975,1)" x="0" y="0" fill="#000" style='font-family:"Liberation Sans", sans-serif;font-size:9.8px' >30 Mar 18:55</text>
<rect x="965" y="826" width="1" height="3" fill="#000"/>
<text transform="translate(964,838) scale(0.975,1)" x="0" y="0" fill="#000" style='font-family:"Liberation Sans", sans-serif;font-size:9.8px' >31 Mar 10:55</text>
<rect x="1029" y="826" width="1" height="3" fill="#000"/>
<text transform="translate(1028,838) scale(0.975,1)" x="0" y="0" fill="#000" style='font-family:"Liberation Sans", sans-serif;font-size:9.8px' >3 Apr 00:00</text>
<rect x="1093" y="826" width="1" height="3" fill="#000"/>
<text transform="translate(1092,838) scale(0.975,1)" x="0" y="0" fill="#000" style='font-family:"Liberation Sans", sans-serif;font-size:9.8px' >3 Apr 18:55</text>
<rect x="1157" y="826" width="1" height="3" fill="#000"/>
<text transform="translate(1156,838) scale(0.975,1)" x="0" y="0" fill="#000" style='font-family:"Liberation Sans", sans-serif;font-size:9.8px' >4 Apr 10:55</text>
<rect x="1221" y="826" width="1" height="3" fill="#000"/>
<text transform="translate(1220,838) scale(0.975,1)" x="0" y="0" fill="#000" style='font-family:"Liberation Sans", sans-serif;font-size:9.8px' >5 Apr 00:00</text>
<rect x="1285" y="826" width="1" height="3" fill="#000"/>
<text transform="translate(1284,838) scale(0.975,1)" x="0" y="0" fill="#000" style='font-family:"Liberation Sans", sans-serif;font-size:9.8px' >5 Apr 18:55</text>
<rect x="1349" y="826" width="1" height="3" fill="#000"/>
<text transform="translate(1348,838) scale(0.975,1)" x="0" y="0" fill="#000" style='font-family:"Liberation Sans", sans-serif;font-size:9.8px' >6 Apr 10:55</text>
<rect x="5" y="0" width="1" height="21" fill="#a0a0a0"/>
<rect x="6" y="0" width="1" height="21" fill="#ffffff"/>
<rect x="241" y="0" width="1" height="21" fill="#a0a0a0"/>
<rect x="242" y="0" width="1" height="21" fill="#ffffff"/>
<rect x="246" y="1" width="3" height="1" fill="#a8a8a8"/>
<rect x="246" y="3" width="3" height="1" fill="#a8a8a8"/>
<rect x="246" y="5" width="3" height="1" fill="#a8a8a8"/>
<rect x="246" y="7" width="3" height="1" fill="#a8a8a8"/>
<rect x="246" y="9" width="3" height="1" fill="#a8a8a8"/>
<rect x="246" y="11" width="3" height="1" fill="#a8a8a8"/>
<rect x="246" y="13" width="3" height="1" fill="#a8a8a8"/>
<rect x="246" y="15" width="3" height="1" fill="#a8a8a8"/>
<rect x="246" y="17" width="3" height="1" fill="#a8a8a8"/>
<rect x="246" y="19" width="3" height="1" fill="#a8a8a8"/>
<rect x="279" y="0" width="1" height="21" fill="#a0a0a0"/>
<rect x="280" y="0" width="1" height="21" fill="#ffffff"/>
<rect x="336" y="0" width="1" height="21" fill="#a0a0a0"/>
<rect x="337" y="0" width="1" height="21" fill="#ffffff"/>
<rect x="426" y="0" width="1" height="21" fill="#a0a0a0"/>
<rect x="427" y="0" width="1" height="21" fill="#ffffff"/>
<rect x="431" y="0" width="1" height="21" fill="#a0a0a0"/>
<rect x="432" y="0" width="1" height="21" fill="#ffffff"/>
<rect x="432" y="0" width="24" height="21" fill="#f8f8f8"/>
<path d="M432,0h24 M433,2h24 M432,4h24 M433,6h24 M432,8h24 M433,10h24 M432,12h24 M433,14h24 M432,16h24 M433,18h24 M432,20h24" stroke="#ececec" stroke-width="1" stroke-dasharray="1 1" transform="translate(0,0.5)"/>
<rect x="432" y="21" width="24" height="1" fill="#ffffff"/>
<rect x="459" y="0" width="1" height="21" fill="#a0a0a0"/>
<rect x="460" y="0" width="1" height="21" fill="#ffffff"/>
<rect x="460" y="0" width="24" height="21" fill="#f8f8f8"/>
<path d="M460,0h24 M461,2h24 M460,4h24 M461,6h24 M460,8h24 M461,10h24 M460,12h24 M461,14h24 M460,16h24 M461,18h24 M460,20h24" stroke="#ececec" stroke-width="1" stroke-dasharray="1 1" transform="translate(0,0.5)"/>
<rect x="460" y="21" width="24" height="1" fill="#ffffff"/>
<rect x="488" y="0" width="1" height="21" fill="#a0a0a0"/>
<rect x="489" y="0" width="1" height="21" fill="#ffffff"/>
<rect x="280" y="0" width="24" height="21" fill="#f8f8f8"/>
<path d="M280,0h24 M281,2h24 M280,4h24 M281,6h24 M280,8h24 M281,10h24 M280,12h24 M281,14h24 M280,16h24 M281,18h24 M280,20h24" stroke="#ececec" stroke-width="1" stroke-dasharray="1 1" transform="translate(0,0.5)"/>
<rect x="280" y="21" width="24" height="1" fill="#ffffff"/>
<rect x="608" y="0" width="1" height="23" fill="#a0a0a0"/>
<rect x="609" y="0" width="1" height="23" fill="#c8c8c8"/>
<rect x="613" y="1" width="3" height="1" fill="#a8a8a8"/>
<rect x="613" y="3" width="3" height="1" fill="#a8a8a8"/>
<rect x="613" y="5" width="3" height="1" fill="#a8a8a8"/>
<rect x="613" y="7" width="3" height="1" fill="#a8a8a8"/>
<rect x="613" y="9" width="3" height="1" fill="#a8a8a8"/>
<rect x="613" y="11" width="3" height="1" fill="#a8a8a8"/>
<rect x="613" y="13" width="3" height="1" fill="#a8a8a8"/>
<rect x="613" y="15" width="3" height="1" fill="#a8a8a8"/>
<rect x="613" y="17" width="3" height="1" fill="#a8a8a8"/>
<rect x="613" y="19" width="3" height="1" fill="#a8a8a8"/>
<rect x="619" y="0" width="1" height="21" fill="#a0a0a0"/>
<rect x="620" y="0" width="1" height="21" fill="#ffffff"/>
<rect x="620" y="0" width="24" height="21" fill="#f8f8f8"/>
<path d="M620,0h24 M621,2h24 M620,4h24 M621,6h24 M620,8h24 M621,10h24 M620,12h24 M621,14h24 M620,16h24 M621,18h24 M620,20h24" stroke="#ececec" stroke-width="1" stroke-dasharray="1 1" transform="translate(0,0.5)"/>
<rect x="620" y="21" width="24" height="1" fill="#ffffff"/>
<rect x="676" y="0" width="1" height="21" fill="#a0a0a0"/>
<rect x="677" y="0" width="1" height="21" fill="#ffffff"/>
<rect x="915" y="0" width="1" height="21" fill="#a0a0a0"/>
<rect x="916" y="0" width="1" height="21" fill="#ffffff"/>
<rect x="919" y="1" width="3" height="1" fill="#a8a8a8"/>
<rect x="919" y="3" width="3" height="1" fill="#a8a8a8"/>
<rect x="919" y="5" width="3" height="1" fill="#a8a8a8"/>
<rect x="919" y="7" width="3" height="1" fill="#a8a8a8"/>
<rect x="919" y="9" width="3" height="1" fill="#a8a8a8"/>
<rect x="919" y="11" width="3" height="1" fill="#a8a8a8"/>
<rect x="919" y="13" width="3" height="1" fill="#a8a8a8"/>
<rect x="919" y="15" width="3" height="1" fill="#a8a8a8"/>
<rect x="919" y="17" width="3" height="1" fill="#a8a8a8"/>
<rect x="919" y="19" width="3" height="1" fill="#a8a8a8"/>
<rect x="1065" y="0" width="1" height="21" fill="#a0a0a0"/>
<rect x="1066" y="0" width="1" height="21" fill="#ffffff"/>
<rect x="1066" y="0" width="24" height="21" fill="#f8f8f8"/>
<path d="M1066,0h24 M1067,2h24 M1066,4h24 M1067,6h24 M1066,8h24 M1067,10h24 M1066,12h24 M1067,14h24 M1066,16h24 M1067,18h24 M1066,20h24" stroke="#ececec" stroke-width="1" stroke-dasharray="1 1" transform="translate(0,0.5)"/>
<rect x="1066" y="21" width="24" height="1" fill="#ffffff"/>
<rect x="1175" y="0" width="1" height="23" fill="#a0a0a0"/>
<rect x="1176" y="0" width="1" height="23" fill="#c8c8c8"/>
<g shape-rendering="geometricPrecision">
<path d="M15.5,3.5h8l3,3v10h-11z" fill="#fff" stroke="#6e6e6e" stroke-width="1"/>
<path d="M23.5,3.5v3h3" fill="#eee" stroke="#6e6e6e" stroke-width="1"/>
<path d="M17,5.5h2.5M17,9.5h5M17,11.5h4.5M17,13.5h2" stroke="#888" stroke-width="1"/>
<path d="M23.5,9.5h3v4h4v3h-4v4h-3v-4h-4v-3h4z" fill="#22dd33" stroke="#0a8a14" stroke-width="1"/>
</g>
<g stroke="#111" stroke-width="1" fill="none" shape-rendering="crispEdges">
<path d="M37.5,4v1.5 M34,5.5h6 M35.5,6.5v1 M38.5,6.5v1 M34,8.5h6 M34,10.5h6 M37.5,8.5v6 M36.5,14.5h1"/>
</g>
<g stroke="#111" stroke-width="1" fill="none" shape-rendering="geometricPrecision">
<path d="M37,11l-2.5,2.5 M38,11l2,2"/>
<path d="M44.5,4.2L41.5,5.5 M41.5,5v5.5q0,3 -1,4 M41.5,8.5h4 M43.5,8.5v6.5"/>
<path d="M47,4.5l1.2,1.5 M46.5,8.5h2v5l1.8,-1.8 M50.5,5.5h7.5 M54.5,5.5v9 M54.5,14.5h-2.5"/>
<path d="M61,4.2l0.8,1.3 M66.5,4.2l-1,1.3 M59.5,6.5h9.5v4h-9.5z M59.5,8.5h9.5 M64.2,6.5v8.5 M58.2,12.6h11.6"/>
</g>
<g shape-rendering="geometricPrecision">
<path d="M87.5,4.5 L97.5,12.5 L90,18.5 L82.5,12.5 L85.5,9 Z" fill="#e8b818" stroke="#9a6410" stroke-width="1.2" stroke-linejoin="round"/>
<path d="M84,11.5 L91.5,17" stroke="#f8e890" stroke-width="1.5"/>
<path d="M91,17.3 L97,12.6" stroke="#d8c890" stroke-width="1.5"/>
</g>
<g shape-rendering="geometricPrecision">
<path d="M112.5,4 L120,3.5 L123,5 L123,13 L112.5,13 Z" fill="#1a90ee"/>
<path d="M115.5,4.5v8 M112.5,4l3,0.8" stroke="#e0f4ff" stroke-width="0.8"/>
<path d="M117,8.5h5" stroke="#e0f4ff" stroke-width="1"/>
<path d="M111.5,18.5 q-1.6,-3.2 2,-4 q1,-3 4.5,-2 q2,-1.5 3.8,0.8 q3.6,-0.6 3.6,2.6 q0.6,2.6 -1.5,2.6 z" fill="#e4e8f0" stroke="#4a5a92" stroke-width="1"/>
</g>
<g shape-rendering="geometricPrecision" fill="none">
<circle cx="145.8" cy="10.8" r="7.3" stroke="#5c86d8" stroke-width="1.1" opacity="0.85"/>
<circle cx="145.8" cy="10.8" r="4.6" stroke="#6a90d8" stroke-width="1.1" opacity="0.8"/>
<path d="M145.8,10.8 m2.2,7 a7.3,7.3 0 0 0 5,-8" stroke="#3aa050" stroke-width="1.4"/>
<circle cx="145.8" cy="10.8" r="1.8" fill="#2a5ed0" stroke="none"/>
<path d="M146.3,11v7.5" stroke="#22a030" stroke-width="1.3"/>
</g>
<g shape-rendering="geometricPrecision">
<path d="M166,10.5 L181,10.5 L174,19 L172.5,19 Z" fill="#f6e058" stroke="#c8a020" stroke-width="0.8"/>
<ellipse cx="173" cy="8.3" rx="7.6" ry="2.2" transform="rotate(-6 173 8.3)" fill="#78c0ea" stroke="#2a80b8" stroke-width="1"/>
<path d="M169,7.8 q0,-4.6 4,-4.6 q4,0 4,4.4 z" fill="#6ab4e4" stroke="#2a80b8" stroke-width="1"/>
<path d="M170.5,5.5 q1,-1.5 2.5,-1.4" stroke="#c0e4fa" stroke-width="1" fill="none"/>
<circle cx="177.3" cy="14.8" r="4.3" fill="#d42010"/>
<circle cx="177.3" cy="14.8" r="4.3" fill="none" stroke="#b01808" stroke-width="0.6"/>
<rect x="176" y="13.5" width="2.7" height="2.7" fill="#fff"/>
</g>
<g stroke="#111" stroke-width="1" fill="none" shape-rendering="crispEdges">
<path d="M190.5,4v1.5 M187.5,5.5v8.5 M195.5,5.5v8.5 M187.5,5.5h8 M187.5,8.5h8 M187.5,10.5h8 M187.5,13.5h8"/>
<path d="M199,5.5h4.5 M198.3,8.5h5.7"/>
<path d="M210.3,6.5h11.4 M215.5,4v2"/>
<path d="M223.5,4.5h8.5v4h-8.5z M223.5,6.5h8.5 M223,9.5h9.5 M232.5,9.5v4.5l-1,0.8"/>
</g>
<g stroke="#111" stroke-width="1" fill="none" shape-rendering="geometricPrecision">
<path d="M200.6,9.5 L199,13.5 L203.8,12.5 M202.5,10.5l1.5,2"/>
<path d="M203.9,6.5h4.5v7.5l-1.2,0.6 M206.3,4 L206,9 L203.9,14.2"/>
<path d="M213.3,8.5 L211.5,10.5 M218.8,8.5 L220.8,10.5 M213.4,10.8 L220.5,14.6 M217.5,10.8 L210.7,14.6"/>
<path d="M225.5,9.5 L222.8,12.8 M227.8,10.5 L225,14.5 M230.2,10.5 L227.5,14.5"/>
</g>
<g shape-rendering="crispEdges">
<rect x="259" y="5" width="1" height="14" fill="#505050"/>
<rect x="258" y="6" width="3" height="1" fill="#505050"/>
<rect x="257" y="16" width="14" height="1" fill="#505050"/>
<rect x="269" y="15" width="1" height="3" fill="#505050"/>
<rect x="265" y="6" width="1" height="9" fill="#118811"/>
<rect x="263" y="13" width="2" height="1" fill="#118811"/>
<rect x="266" y="7" width="2" height="1" fill="#118811"/>
<rect x="287" y="5" width="1" height="14" fill="#505050"/>
<rect x="286" y="6" width="3" height="1" fill="#505050"/>
<rect x="285" y="16" width="14" height="1" fill="#505050"/>
<rect x="297" y="15" width="1" height="3" fill="#505050"/>
<rect x="293" y="3" width="1" height="12" fill="#0a7a0a"/>
<rect x="291" y="5" width="5" height="8" fill="#0a7a0a"/>
<rect x="292" y="6" width="3" height="6" fill="#3ee85a"/>
<rect x="315" y="5" width="1" height="14" fill="#505050"/>
<rect x="314" y="6" width="3" height="1" fill="#505050"/>
<rect x="313" y="16" width="14" height="1" fill="#505050"/>
<rect x="325" y="15" width="1" height="3" fill="#505050"/>
</g>
<path d="M314,13.5 C317,9 319,7 321,8.5 C323,10.5 324,12 326,12" fill="none" stroke="#2a9a2a" stroke-width="1.2" shape-rendering="geometricPrecision"/>
<g shape-rendering="geometricPrecision">
<path d="M354.5,12.5 L359.5,17.5" stroke="#a87800" stroke-width="3.6"/>
<path d="M354.5,12.5 L359.5,17.5" stroke="#f0d850" stroke-width="2"/>
<circle cx="351" cy="9" r="5.4" fill="#dff2fc" stroke="#2f6fc0" stroke-width="1.3"/>
<path d="M347.8,9h6.4" stroke="#4a88b0" stroke-width="2"/>
<path d="M351,5.8v6.4" stroke="#4a88b0" stroke-width="2"/>
</g>
<g shape-rendering="geometricPrecision">
<path d="M382.5,12.5 L387.5,17.5" stroke="#a87800" stroke-width="3.6"/>
<path d="M382.5,12.5 L387.5,17.5" stroke="#f0d850" stroke-width="2"/>
<circle cx="379" cy="9" r="5.4" fill="#dff2fc" stroke="#2f6fc0" stroke-width="1.3"/>
<path d="M375.8,9h6.4" stroke="#4a88b0" stroke-width="2"/>
</g>
<g shape-rendering="crispEdges">
<rect x="401" y="3" width="8" height="8" fill="#3aa020"/>
<rect x="402" y="4" width="1" height="1" fill="#e8ffe8"/>
<rect x="402" y="6" width="6" height="4" fill="#ffffff"/>
<rect x="403" y="7" width="4" height="1" fill="#a0d890"/>
<rect x="409" y="3" width="8" height="8" fill="#2a62d8"/>
<rect x="410" y="4" width="1" height="1" fill="#e8ffe8"/>
<rect x="410" y="6" width="6" height="4" fill="#ffffff"/>
<rect x="411" y="7" width="4" height="1" fill="#90b0e8"/>
<rect x="401" y="11" width="8" height="8" fill="#2a62d8"/>
<rect x="402" y="12" width="1" height="1" fill="#e8ffe8"/>
<rect x="402" y="14" width="6" height="4" fill="#ffffff"/>
<rect x="403" y="15" width="4" height="1" fill="#90b0e8"/>
<rect x="409" y="11" width="8" height="8" fill="#3aa020"/>
<rect x="410" y="12" width="1" height="1" fill="#e8ffe8"/>
<rect x="410" y="14" width="6" height="4" fill="#ffffff"/>
<rect x="411" y="15" width="4" height="1" fill="#a0d890"/>
</g>
<g shape-rendering="crispEdges">
<rect x="439" y="5" width="1" height="14" fill="#505050"/>
<rect x="438" y="6" width="3" height="1" fill="#505050"/>
<rect x="437" y="16" width="14" height="1" fill="#505050"/>
<rect x="449" y="15" width="1" height="3" fill="#505050"/>
<rect x="467" y="5" width="1" height="14" fill="#505050"/>
<rect x="466" y="6" width="3" height="1" fill="#505050"/>
<rect x="465" y="16" width="14" height="1" fill="#505050"/>
<rect x="477" y="15" width="1" height="3" fill="#505050"/>
<rect x="473" y="5" width="1" height="10" fill="#1a6a9a"/>
</g>
<polygon points="444.5,7 448,10.5 444.5,14" fill="#40d040" stroke="#108a10" stroke-width="1" shape-rendering="geometricPrecision"/>
<path d="M474.5,10.5 L478.5,8 L477.5,10.5 L478.5,13 Z M476,10.5h3.5" fill="#e84010" stroke="#b02000" stroke-width="0.8" shape-rendering="geometricPrecision"/>
<g shape-rendering="geometricPrecision">
<path d="M498.5,3.5h8l3,3v10h-11z" fill="#fff" stroke="#6e6e6e" stroke-width="1"/>
<path d="M506.5,3.5v3h3" fill="#eee" stroke="#6e6e6e" stroke-width="1"/>
<path d="M503.5,5.5 q-1.2,0 -1.2,1.6 v7 M501,8.5h2.5" fill="none" stroke="#444" stroke-width="0.9"/>
<path d="M506.5,9.5h3v4h4v3h-4v4h-3v-4h-4v-3h4z" fill="#22dd33" stroke="#0a8a14" stroke-width="1"/>
</g>
<polygon points="519.5,10 525.5,10 522.5,13" fill="#000"/>
<g shape-rendering="geometricPrecision">
<circle cx="544" cy="11" r="7.2" fill="#fff" stroke="#1a64c8" stroke-width="2.2"/>
<circle cx="544" cy="11" r="8.2" fill="none" stroke="#0a3a8a" stroke-width="0.6" opacity="0.8"/>
<circle cx="544" cy="11" r="6" fill="none" stroke="#9cc4f0" stroke-width="0.6"/>
<path d="M544.00,6.40L544.00,5.60" stroke="#777" stroke-width="0.6"/>
<path d="M546.30,7.02L546.70,6.32" stroke="#777" stroke-width="0.6"/>
<path d="M547.98,8.70L548.68,8.30" stroke="#777" stroke-width="0.6"/>
<path d="M548.60,11.00L549.40,11.00" stroke="#777" stroke-width="0.6"/>
<path d="M547.98,13.30L548.68,13.70" stroke="#777" stroke-width="0.6"/>
<path d="M546.30,14.98L546.70,15.68" stroke="#777" stroke-width="0.6"/>
<path d="M544.00,15.60L544.00,16.40" stroke="#777" stroke-width="0.6"/>
<path d="M541.70,14.98L541.30,15.68" stroke="#777" stroke-width="0.6"/>
<path d="M540.02,13.30L539.32,13.70" stroke="#777" stroke-width="0.6"/>
<path d="M539.40,11.00L538.60,11.00" stroke="#777" stroke-width="0.6"/>
<path d="M540.02,8.70L539.32,8.30" stroke="#777" stroke-width="0.6"/>
<path d="M541.70,7.02L541.30,6.32" stroke="#777" stroke-width="0.6"/>
<path d="M543.6,6.2v5.2h3.4" fill="none" stroke="#222" stroke-width="1.1"/>
<path d="M543.2,15.6h1.8" stroke="#4a90e0" stroke-width="1"/>
</g>
<polygon points="559,10 565,10 562,13" fill="#000"/>
<g shape-rendering="crispEdges">
<rect x="575" y="4" width="16" height="14" fill="#3a78d0"/>
<rect x="576" y="5" width="14" height="1" fill="#9ac0f0"/>
<rect x="576" y="6" width="14" height="5" fill="#ffffff"/>
<rect x="576" y="12" width="14" height="5" fill="#ffffff"/>
</g>
<path d="M577,9.5 L579.5,9 L581.5,8 L583,8.8 L585,8 L587,8.5 L589,7.5" fill="none" stroke="#b82010" stroke-width="1" shape-rendering="geometricPrecision"/>
<path d="M577,15.5 L579,15 L581,14 L583,15 L585.5,13 L587.5,15.5" fill="none" stroke="#18981a" stroke-width="1" shape-rendering="geometricPrecision"/>
<polygon points="597.5,10 603.5,10 600.5,13" fill="#000"/>
<path d="M627.5,4 L627.5,16 L630.3,13.3 L632.5,18.2 L634.6,17.3 L632.3,12.6 L636,12.3 Z" fill="#505050" shape-rendering="geometricPrecision"/>
<g shape-rendering="crispEdges">
<rect x="659" y="4" width="1" height="6" fill="#505050"/>
<rect x="659" y="13" width="1" height="6" fill="#505050"/>
<rect x="652" y="11" width="6" height="1" fill="#505050"/>
<rect x="661" y="11" width="6" height="1" fill="#505050"/>
<rect x="659" y="11" width="1" height="1" fill="#909090"/>
<rect x="693" y="5" width="1" height="13" fill="#505050"/>
<rect x="716" y="11" width="12" height="1" fill="#505050"/>
</g>
<path d="M744,18 L756,6" stroke="#505050" stroke-width="1" shape-rendering="geometricPrecision"/>
<g shape-rendering="geometricPrecision" stroke="#505050" fill="none" stroke-width="1.1">
<path d="M770,12.5 L782,3.5 M770.5,17.5 L784,8 M773,18.5 L784.5,10.5"/>
<path d="M772.5,9.5 L771.5,17 M775.5,7.5 L774.5,16 M778.5,5.5 L777.5,14 M781.5,3 L780.5,12"/>
</g>
<text x="780.5" y="20" style="font-family:Liberation Sans,sans-serif;font-size:7.5px;font-weight:bold" fill="#404040">E</text>
<g shape-rendering="crispEdges">
<rect x="799" y="4" width="1" height="1" fill="#505050"/>
<rect x="801" y="4" width="1" height="1" fill="#505050"/>
<rect x="803" y="4" width="1" height="1" fill="#505050"/>
<rect x="805" y="4" width="1" height="1" fill="#505050"/>
<rect x="807" y="4" width="1" height="1" fill="#505050"/>
<rect x="809" y="4" width="1" height="1" fill="#505050"/>
<rect x="811" y="4" width="1" height="1" fill="#505050"/>
<rect x="799" y="7" width="1" height="1" fill="#505050"/>
<rect x="801" y="7" width="1" height="1" fill="#505050"/>
<rect x="803" y="7" width="1" height="1" fill="#505050"/>
<rect x="805" y="7" width="1" height="1" fill="#505050"/>
<rect x="807" y="7" width="1" height="1" fill="#505050"/>
<rect x="809" y="7" width="1" height="1" fill="#505050"/>
<rect x="811" y="7" width="1" height="1" fill="#505050"/>
<rect x="799" y="11" width="1" height="1" fill="#505050"/>
<rect x="801" y="11" width="1" height="1" fill="#505050"/>
<rect x="803" y="11" width="1" height="1" fill="#505050"/>
<rect x="805" y="11" width="1" height="1" fill="#505050"/>
<rect x="807" y="11" width="1" height="1" fill="#505050"/>
<rect x="809" y="11" width="1" height="1" fill="#505050"/>
<rect x="811" y="11" width="1" height="1" fill="#505050"/>
<rect x="799" y="15" width="1" height="1" fill="#505050"/>
<rect x="801" y="15" width="1" height="1" fill="#505050"/>
<rect x="803" y="15" width="1" height="1" fill="#505050"/>
<rect x="805" y="15" width="1" height="1" fill="#505050"/>
<rect x="807" y="15" width="1" height="1" fill="#505050"/>
</g>
<text x="808.5" y="20" style="font-family:Liberation Sans,sans-serif;font-size:7.5px;font-weight:bold" fill="#404040">F</text>
<text x="829.5" y="16" style="font-family:Liberation Sans,sans-serif;font-size:12.5px;font-weight:bold" fill="#606060">A</text>
<g shape-rendering="crispEdges">
<rect x="856" y="5" width="1" height="1" fill="#505050"/>
<rect x="856" y="17" width="1" height="1" fill="#505050"/>
<rect x="858" y="5" width="1" height="1" fill="#505050"/>
<rect x="858" y="17" width="1" height="1" fill="#505050"/>
<rect x="860" y="5" width="1" height="1" fill="#505050"/>
<rect x="860" y="17" width="1" height="1" fill="#505050"/>
<rect x="862" y="5" width="1" height="1" fill="#505050"/>
<rect x="862" y="17" width="1" height="1" fill="#505050"/>
<rect x="864" y="5" width="1" height="1" fill="#505050"/>
<rect x="864" y="17" width="1" height="1" fill="#505050"/>
<rect x="866" y="5" width="1" height="1" fill="#505050"/>
<rect x="866" y="17" width="1" height="1" fill="#505050"/>
<rect x="868" y="5" width="1" height="1" fill="#505050"/>
<rect x="868" y="17" width="1" height="1" fill="#505050"/>
<rect x="856" y="5" width="1" height="1" fill="#505050"/>
<rect x="867" y="5" width="1" height="1" fill="#505050"/>
<rect x="856" y="7" width="1" height="1" fill="#505050"/>
<rect x="867" y="7" width="1" height="1" fill="#505050"/>
<rect x="856" y="9" width="1" height="1" fill="#505050"/>
<rect x="867" y="9" width="1" height="1" fill="#505050"/>
<rect x="856" y="11" width="1" height="1" fill="#505050"/>
<rect x="867" y="11" width="1" height="1" fill="#505050"/>
<rect x="856" y="13" width="1" height="1" fill="#505050"/>
<rect x="867" y="13" width="1" height="1" fill="#505050"/>
<rect x="856" y="15" width="1" height="1" fill="#505050"/>
<rect x="867" y="15" width="1" height="1" fill="#505050"/>
<rect x="856" y="17" width="1" height="1" fill="#505050"/>
<rect x="867" y="17" width="1" height="1" fill="#505050"/>
<rect x="858" y="8" width="8" height="2" fill="#505050"/>
<rect x="861" y="8" width="2" height="8" fill="#505050"/>
</g>
<g shape-rendering="geometricPrecision" fill="#505050">
<polygon points="886,6 889,8.5 886,10 883,8.5"/>
<polygon points="893,12 897,14.5 893.5,17.5 890,14.5"/>
<path d="M885,11 L887.5,14 L892,8.5" fill="none" stroke="#404040" stroke-width="1.2"/>
</g>
<polygon points="903.5,10 909.5,10 906.5,13" fill="#000"/>
<text x="930" y="15" style="font-family:Liberation Sans,sans-serif;font-size:10px" fill="#383838" shape-rendering="geometricPrecision">M1</text>
<text x="958" y="15" style="font-family:Liberation Sans,sans-serif;font-size:10px" fill="#383838" shape-rendering="geometricPrecision">M5</text>
<text x="984" y="15" style="font-family:Liberation Sans,sans-serif;font-size:10px" fill="#383838" shape-rendering="geometricPrecision">M15</text>
<text x="1012" y="15" style="font-family:Liberation Sans,sans-serif;font-size:10px" fill="#383838" shape-rendering="geometricPrecision">M30</text>
<text x="1043" y="15" style="font-family:Liberation Sans,sans-serif;font-size:10px" fill="#383838" shape-rendering="geometricPrecision">H1</text>
<text x="1070" y="15" style="font-family:Liberation Sans,sans-serif;font-size:10px" fill="#383838" shape-rendering="geometricPrecision">H4</text>
<text x="1099" y="15" style="font-family:Liberation Sans,sans-serif;font-size:10px" fill="#383838" shape-rendering="geometricPrecision">D1</text>
<text x="1126" y="15" style="font-family:Liberation Sans,sans-serif;font-size:10px" fill="#383838" shape-rendering="geometricPrecision">W1</text>
<text x="1153" y="15" style="font-family:Liberation Sans,sans-serif;font-size:10px" fill="#383838" shape-rendering="geometricPrecision">MN</text>
<g shape-rendering="geometricPrecision">
<circle cx="1646.4" cy="8.4" r="3.6" fill="#fff" fill-opacity="0.6" stroke="#2a62d0" stroke-width="1.3"/>
<path d="M1643.8,11.2 L1639.2,15.8" stroke="#2a58c8" stroke-width="2.2" stroke-linecap="round"/>
<path d="M1664,12.5 q0,-4 6,-4 q6,0 6,4 q0,4 -6,4 l-2,0 l-2.3,2.8 l0.3,-3.2 q-2,-1 -2,-3.6z" fill="#e8eaf0" stroke="#a0a0a8" stroke-width="0.9"/>
<circle cx="1677.4" cy="8.5" r="7.8" fill="#e02a14"/>
<text x="1674.2" y="12.8" style="font-family:Liberation Serif,serif;font-size:11.5px;font-weight:bold" fill="#fff">1</text>
</g>
</svg>
</body></html>
